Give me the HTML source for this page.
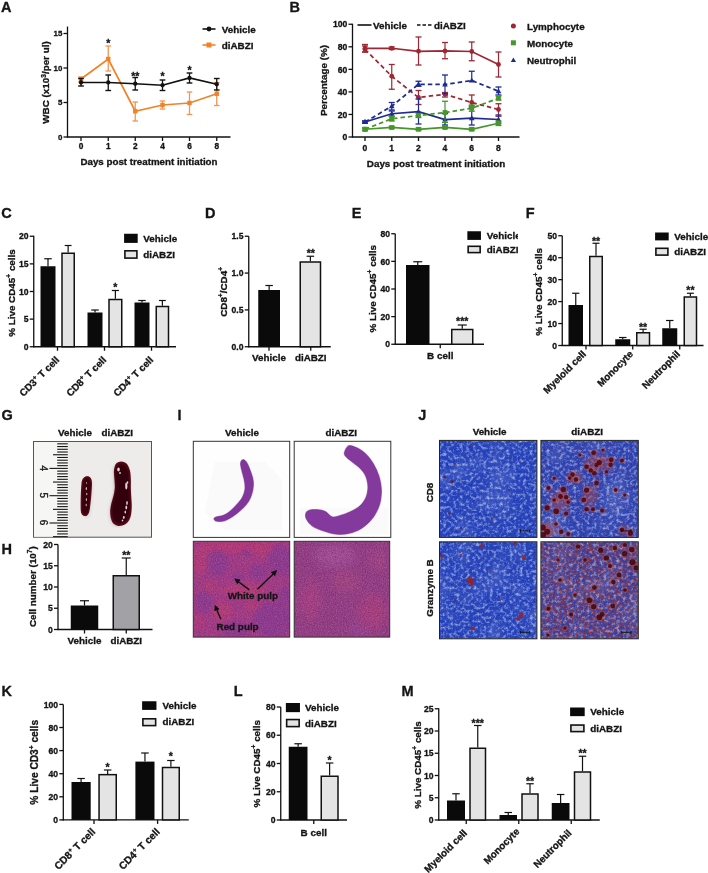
<!DOCTYPE html>
<html><head><meta charset="utf-8"><title>Figure</title>
<style>
html,body{margin:0;padding:0;background:#fff;}
body{width:708px;height:873px;overflow:hidden;}
svg{display:block;font-family:"Liberation Sans", sans-serif;will-change:transform;filter:blur(0.3px);}
text{stroke:#151515;stroke-width:0.32px;}
</style></head><body>
<svg width="708" height="873" viewBox="0 0 708 873">
<rect width="708" height="873" fill="#fff"/>
<defs>
<marker id="arr" viewBox="0 0 10 10" refX="8" refY="5" markerWidth="4.2" markerHeight="4.2" orient="auto-start-reverse" markerUnits="strokeWidth"><path d="M0,0 L10,5 L0,10 z" fill="#111"/></marker>
<clipPath id="clipHE1"><rect x="193.8" y="541.8" width="95.4" height="94.8"/></clipPath>
<clipPath id="clipHE2"><rect x="294.7" y="541.8" width="94.5" height="94.8"/></clipPath>
<filter id="blur05" x="-50%" y="-50%" width="200%" height="200%"><feGaussianBlur stdDeviation="0.5"/></filter>
<filter id="blur1" x="-50%" y="-50%" width="200%" height="200%"><feGaussianBlur stdDeviation="1"/></filter>
<filter id="blur2" x="-50%" y="-50%" width="200%" height="200%"><feGaussianBlur stdDeviation="2.2"/></filter>
<filter id="blur3" x="-50%" y="-50%" width="200%" height="200%"><feGaussianBlur stdDeviation="4"/></filter>
<filter id="speck" x="0" y="0" width="100%" height="100%"><feTurbulence type="fractalNoise" baseFrequency="0.8" numOctaves="2" seed="3" result="n"/><feColorMatrix in="n" type="matrix" values="0 0 0 0 0  0 0 0 0 0  0 0 0 0 0  2.2 0 0 0 -0.95" result="a"/><feFlood flood-color="#dc88bc"/><feComposite in2="a" operator="in"/></filter>
<filter id="speckD" x="0" y="0" width="100%" height="100%"><feTurbulence type="fractalNoise" baseFrequency="0.9" numOctaves="2" seed="17" result="n"/><feColorMatrix in="n" type="matrix" values="0 0 0 0 0  0 0 0 0 0  0 0 0 0 0  -2.2 0 0 0 1.15" result="a"/><feFlood flood-color="#641a5e"/><feComposite in2="a" operator="in"/></filter>
<filter id="speckJ" x="0" y="0" width="100%" height="100%"><feTurbulence type="fractalNoise" baseFrequency="0.3" numOctaves="3" seed="11" result="n"/><feColorMatrix in="n" type="matrix" values="0 0 0 0 0  0 0 0 0 0  0 0 0 0 0  2.4 0 0 0 -1.1" result="a"/><feFlood flood-color="#d4def6"/><feComposite in2="a" operator="in"/><feGaussianBlur stdDeviation="0.35"/></filter>
<filter id="darkJ" x="0" y="0" width="100%" height="100%"><feTurbulence type="fractalNoise" baseFrequency="0.45" numOctaves="2" seed="23" result="n"/><feColorMatrix in="n" type="matrix" values="0 0 0 0 0  0 0 0 0 0  0 0 0 0 0  -3 0 0 0 1.3" result="a"/><feFlood flood-color="#1a2fa0"/><feComposite in2="a" operator="in"/></filter>
<filter id="bandJ" x="0" y="0" width="100%" height="100%"><feTurbulence type="fractalNoise" baseFrequency="0.035" numOctaves="2" seed="4" result="n"/><feColorMatrix in="n" type="matrix" values="0 0 0 0 0  0 0 0 0 0  0 0 0 0 0  2.2 0 0 0 -1.05" result="a"/><feFlood flood-color="#dfe6f8"/><feComposite in2="a" operator="in"/></filter>
<filter id="redJ" x="0" y="0" width="100%" height="100%"><feTurbulence type="fractalNoise" baseFrequency="0.4" numOctaves="2" seed="31" result="n"/><feColorMatrix in="n" type="matrix" values="0 0 0 0 0  0 0 0 0 0  0 0 0 0 0  3 0 0 0 -1.35" result="a"/><feFlood flood-color="#a83a3a"/><feComposite in2="a" operator="in"/></filter>
<filter id="tex" x="-5%" y="-5%" width="110%" height="110%"><feTurbulence type="fractalNoise" baseFrequency="0.7" numOctaves="2" seed="5" result="n"/><feColorMatrix in="n" type="matrix" values="0 0 0 0 0.75  0 0 0 0 0.3  0 0 0 0 0.55  1.6 0 0 0 -0.75" result="a"/><feComposite in="a" in2="SourceGraphic" operator="in" result="b"/><feMerge><feMergeNode in="SourceGraphic"/><feMergeNode in="b"/></feMerge></filter>
<radialGradient id="gHE2" cx="0.45" cy="0.3" r="0.6"><stop offset="0" stop-color="#c083bb"/><stop offset="1" stop-color="#a4519b" stop-opacity="0"/></radialGradient>
</defs>
<text x="1.00" y="11.88" font-size="14.5" text-anchor="start" font-weight="bold" fill="#151515">A</text>
<line x1="67.50" y1="137.60" x2="67.50" y2="26.50" stroke="#111" stroke-width="1.3"/>
<line x1="63.50" y1="137.00" x2="67.50" y2="137.00" stroke="#111" stroke-width="1.3"/>
<text x="62.30" y="139.94" font-size="7.9" text-anchor="end" font-weight="bold" fill="#151515">0</text>
<line x1="63.50" y1="102.50" x2="67.50" y2="102.50" stroke="#111" stroke-width="1.3"/>
<text x="62.30" y="105.44" font-size="7.9" text-anchor="end" font-weight="bold" fill="#151515">5</text>
<line x1="63.50" y1="68.00" x2="67.50" y2="68.00" stroke="#111" stroke-width="1.3"/>
<text x="62.30" y="70.94" font-size="7.9" text-anchor="end" font-weight="bold" fill="#151515">10</text>
<line x1="63.50" y1="33.50" x2="67.50" y2="33.50" stroke="#111" stroke-width="1.3"/>
<text x="62.30" y="36.44" font-size="7.9" text-anchor="end" font-weight="bold" fill="#151515">15</text>
<line x1="66.90" y1="137.00" x2="230.50" y2="137.00" stroke="#111" stroke-width="1.3"/>
<line x1="81.00" y1="137.00" x2="81.00" y2="141.00" stroke="#111" stroke-width="1.3"/>
<text x="81.00" y="149.09" font-size="8.3" text-anchor="middle" font-weight="bold" fill="#151515">0</text>
<line x1="108.25" y1="137.00" x2="108.25" y2="141.00" stroke="#111" stroke-width="1.3"/>
<text x="108.25" y="149.09" font-size="8.3" text-anchor="middle" font-weight="bold" fill="#151515">1</text>
<line x1="135.25" y1="137.00" x2="135.25" y2="141.00" stroke="#111" stroke-width="1.3"/>
<text x="135.25" y="149.09" font-size="8.3" text-anchor="middle" font-weight="bold" fill="#151515">2</text>
<line x1="162.50" y1="137.00" x2="162.50" y2="141.00" stroke="#111" stroke-width="1.3"/>
<text x="162.50" y="149.09" font-size="8.3" text-anchor="middle" font-weight="bold" fill="#151515">4</text>
<line x1="189.50" y1="137.00" x2="189.50" y2="141.00" stroke="#111" stroke-width="1.3"/>
<text x="189.50" y="149.09" font-size="8.3" text-anchor="middle" font-weight="bold" fill="#151515">6</text>
<line x1="216.75" y1="137.00" x2="216.75" y2="141.00" stroke="#111" stroke-width="1.3"/>
<text x="216.75" y="149.09" font-size="8.3" text-anchor="middle" font-weight="bold" fill="#151515">8</text>
<text x="149.00" y="165.21" font-size="9.75" text-anchor="middle" font-weight="bold" fill="#151515">Days post treatment initiation</text>
<text x="46" y="82.5" font-size="9.85" font-weight="bold" fill="#151515" text-anchor="middle" transform="rotate(-90 46 82.5) translate(0 3.4)">WBC (x10<tspan font-size="6.6" dy="-3.8">3</tspan><tspan dy="3.8">/per ul)</tspan></text>
<line x1="81.00" y1="77.00" x2="81.00" y2="82.00" stroke="#f29550" stroke-width="1.3"/>
<line x1="78.20" y1="77.00" x2="83.80" y2="77.00" stroke="#f29550" stroke-width="1.3"/>
<line x1="78.20" y1="82.00" x2="83.80" y2="82.00" stroke="#f29550" stroke-width="1.3"/>
<line x1="108.25" y1="46.00" x2="108.25" y2="71.00" stroke="#f29550" stroke-width="1.3"/>
<line x1="105.45" y1="46.00" x2="111.05" y2="46.00" stroke="#f29550" stroke-width="1.3"/>
<line x1="105.45" y1="71.00" x2="111.05" y2="71.00" stroke="#f29550" stroke-width="1.3"/>
<line x1="135.25" y1="102.00" x2="135.25" y2="121.00" stroke="#f29550" stroke-width="1.3"/>
<line x1="132.45" y1="102.00" x2="138.05" y2="102.00" stroke="#f29550" stroke-width="1.3"/>
<line x1="132.45" y1="121.00" x2="138.05" y2="121.00" stroke="#f29550" stroke-width="1.3"/>
<line x1="162.50" y1="101.00" x2="162.50" y2="109.00" stroke="#f29550" stroke-width="1.3"/>
<line x1="159.70" y1="101.00" x2="165.30" y2="101.00" stroke="#f29550" stroke-width="1.3"/>
<line x1="159.70" y1="109.00" x2="165.30" y2="109.00" stroke="#f29550" stroke-width="1.3"/>
<line x1="189.50" y1="92.00" x2="189.50" y2="114.50" stroke="#f29550" stroke-width="1.3"/>
<line x1="186.70" y1="92.00" x2="192.30" y2="92.00" stroke="#f29550" stroke-width="1.3"/>
<line x1="186.70" y1="114.50" x2="192.30" y2="114.50" stroke="#f29550" stroke-width="1.3"/>
<line x1="216.75" y1="82.50" x2="216.75" y2="105.50" stroke="#f29550" stroke-width="1.3"/>
<line x1="213.95" y1="82.50" x2="219.55" y2="82.50" stroke="#f29550" stroke-width="1.3"/>
<line x1="213.95" y1="105.50" x2="219.55" y2="105.50" stroke="#f29550" stroke-width="1.3"/>
<polyline points="81,79 108.25,59 135.25,111.25 162.5,105 189.5,103 216.75,93.75" fill="none" stroke="#f08228" stroke-width="1.7"/>
<rect x="78.8" y="76.8" width="4.4" height="4.4" fill="#f08228"/>
<rect x="106.05" y="56.8" width="4.4" height="4.4" fill="#f08228"/>
<rect x="133.05" y="109.05" width="4.4" height="4.4" fill="#f08228"/>
<rect x="160.3" y="102.8" width="4.4" height="4.4" fill="#f08228"/>
<rect x="187.3" y="100.8" width="4.4" height="4.4" fill="#f08228"/>
<rect x="214.55" y="91.55" width="4.4" height="4.4" fill="#f08228"/>
<line x1="81.00" y1="78.50" x2="81.00" y2="86.00" stroke="#111" stroke-width="1.3"/>
<line x1="78.15" y1="78.50" x2="83.85" y2="78.50" stroke="#111" stroke-width="1.4"/>
<line x1="78.15" y1="86.00" x2="83.85" y2="86.00" stroke="#111" stroke-width="1.4"/>
<line x1="108.25" y1="75.00" x2="108.25" y2="90.50" stroke="#111" stroke-width="1.3"/>
<line x1="105.40" y1="75.00" x2="111.10" y2="75.00" stroke="#111" stroke-width="1.4"/>
<line x1="105.40" y1="90.50" x2="111.10" y2="90.50" stroke="#111" stroke-width="1.4"/>
<line x1="135.25" y1="77.50" x2="135.25" y2="90.00" stroke="#111" stroke-width="1.3"/>
<line x1="132.40" y1="77.50" x2="138.10" y2="77.50" stroke="#111" stroke-width="1.4"/>
<line x1="132.40" y1="90.00" x2="138.10" y2="90.00" stroke="#111" stroke-width="1.4"/>
<line x1="162.50" y1="80.00" x2="162.50" y2="90.50" stroke="#111" stroke-width="1.3"/>
<line x1="159.65" y1="80.00" x2="165.35" y2="80.00" stroke="#111" stroke-width="1.4"/>
<line x1="159.65" y1="90.50" x2="165.35" y2="90.50" stroke="#111" stroke-width="1.4"/>
<line x1="189.50" y1="73.00" x2="189.50" y2="83.00" stroke="#111" stroke-width="1.3"/>
<line x1="186.65" y1="73.00" x2="192.35" y2="73.00" stroke="#111" stroke-width="1.4"/>
<line x1="186.65" y1="83.00" x2="192.35" y2="83.00" stroke="#111" stroke-width="1.4"/>
<line x1="216.75" y1="78.50" x2="216.75" y2="90.00" stroke="#111" stroke-width="1.3"/>
<line x1="213.90" y1="78.50" x2="219.60" y2="78.50" stroke="#111" stroke-width="1.4"/>
<line x1="213.90" y1="90.00" x2="219.60" y2="90.00" stroke="#111" stroke-width="1.4"/>
<polyline points="81,82.5 108.25,82.5 135.25,83.75 162.5,85.25 189.5,78 216.75,84.25" fill="none" stroke="#111" stroke-width="1.7"/>
<circle cx="81" cy="82.5" r="2.15" fill="#111"/>
<circle cx="108.25" cy="82.5" r="2.15" fill="#111"/>
<circle cx="135.25" cy="83.75" r="2.15" fill="#111"/>
<circle cx="162.5" cy="85.25" r="2.15" fill="#111"/>
<circle cx="189.5" cy="78" r="2.15" fill="#111"/>
<circle cx="216.75" cy="84.25" r="2.15" fill="#111"/>
<text x="108.25" y="46.77" font-size="10.5" text-anchor="middle" font-weight="bold" fill="#151515">*</text>
<text x="135.25" y="79.78" font-size="10.5" text-anchor="middle" font-weight="bold" fill="#151515">**</text>
<text x="162.50" y="80.28" font-size="10.5" text-anchor="middle" font-weight="bold" fill="#151515">*</text>
<text x="189.50" y="73.78" font-size="10.5" text-anchor="middle" font-weight="bold" fill="#151515">*</text>
<line x1="202.50" y1="29.00" x2="215.50" y2="29.00" stroke="#111" stroke-width="1.6"/>
<circle cx="209" cy="29" r="2.4" fill="#111"/>
<line x1="202.50" y1="45.00" x2="215.50" y2="45.00" stroke="#f08228" stroke-width="1.6"/>
<rect x="206.5" y="42.5" width="5" height="5" fill="#f08228"/>
<text x="221.75" y="32.65" font-size="9.85" text-anchor="start" font-weight="bold" fill="#151515">Vehicle</text>
<text x="221.75" y="48.65" font-size="9.85" text-anchor="start" font-weight="bold" fill="#151515">diABZI</text>
<text x="289.40" y="11.88" font-size="14.5" text-anchor="start" font-weight="bold" fill="#151515">B</text>
<line x1="352.50" y1="137.60" x2="352.50" y2="23.75" stroke="#111" stroke-width="1.3"/>
<line x1="348.50" y1="137.00" x2="352.50" y2="137.00" stroke="#111" stroke-width="1.3"/>
<text x="347.30" y="140.20" font-size="8.6" text-anchor="end" font-weight="bold" fill="#151515">0</text>
<line x1="348.50" y1="114.45" x2="352.50" y2="114.45" stroke="#111" stroke-width="1.3"/>
<text x="347.30" y="117.65" font-size="8.6" text-anchor="end" font-weight="bold" fill="#151515">20</text>
<line x1="348.50" y1="91.90" x2="352.50" y2="91.90" stroke="#111" stroke-width="1.3"/>
<text x="347.30" y="95.10" font-size="8.6" text-anchor="end" font-weight="bold" fill="#151515">40</text>
<line x1="348.50" y1="69.35" x2="352.50" y2="69.35" stroke="#111" stroke-width="1.3"/>
<text x="347.30" y="72.55" font-size="8.6" text-anchor="end" font-weight="bold" fill="#151515">60</text>
<line x1="348.50" y1="46.80" x2="352.50" y2="46.80" stroke="#111" stroke-width="1.3"/>
<text x="347.30" y="50.00" font-size="8.6" text-anchor="end" font-weight="bold" fill="#151515">80</text>
<line x1="348.50" y1="24.25" x2="352.50" y2="24.25" stroke="#111" stroke-width="1.3"/>
<text x="347.30" y="27.45" font-size="8.6" text-anchor="end" font-weight="bold" fill="#151515">100</text>
<line x1="351.90" y1="137.00" x2="519.50" y2="137.00" stroke="#111" stroke-width="1.3"/>
<line x1="365.00" y1="137.00" x2="365.00" y2="141.00" stroke="#111" stroke-width="1.3"/>
<text x="365.00" y="150.70" font-size="8.6" text-anchor="middle" font-weight="bold" fill="#151515">0</text>
<line x1="391.75" y1="137.00" x2="391.75" y2="141.00" stroke="#111" stroke-width="1.3"/>
<text x="391.75" y="150.70" font-size="8.6" text-anchor="middle" font-weight="bold" fill="#151515">1</text>
<line x1="418.50" y1="137.00" x2="418.50" y2="141.00" stroke="#111" stroke-width="1.3"/>
<text x="418.50" y="150.70" font-size="8.6" text-anchor="middle" font-weight="bold" fill="#151515">2</text>
<line x1="445.00" y1="137.00" x2="445.00" y2="141.00" stroke="#111" stroke-width="1.3"/>
<text x="445.00" y="150.70" font-size="8.6" text-anchor="middle" font-weight="bold" fill="#151515">4</text>
<line x1="471.75" y1="137.00" x2="471.75" y2="141.00" stroke="#111" stroke-width="1.3"/>
<text x="471.75" y="150.70" font-size="8.6" text-anchor="middle" font-weight="bold" fill="#151515">6</text>
<line x1="498.50" y1="137.00" x2="498.50" y2="141.00" stroke="#111" stroke-width="1.3"/>
<text x="498.50" y="150.70" font-size="8.6" text-anchor="middle" font-weight="bold" fill="#151515">8</text>
<text x="436.00" y="166.65" font-size="9.85" text-anchor="middle" font-weight="bold" fill="#151515">Days post treatment initiation</text>
<text x="323.25" y="80.5" font-size="9.85" font-weight="bold" fill="#151515" text-anchor="middle" transform="rotate(-90 323.25 80.5) translate(0 3.4)">Percentage (%)</text>
<line x1="365.00" y1="44.50" x2="365.00" y2="52.00" stroke="#9e2733" stroke-width="1.2"/>
<line x1="362.00" y1="44.50" x2="368.00" y2="44.50" stroke="#9e2733" stroke-width="1.3"/>
<line x1="362.00" y1="52.00" x2="368.00" y2="52.00" stroke="#9e2733" stroke-width="1.3"/>
<line x1="391.75" y1="47.00" x2="391.75" y2="49.50" stroke="#9e2733" stroke-width="1.2"/>
<line x1="388.75" y1="47.00" x2="394.75" y2="47.00" stroke="#9e2733" stroke-width="1.3"/>
<line x1="388.75" y1="49.50" x2="394.75" y2="49.50" stroke="#9e2733" stroke-width="1.3"/>
<line x1="418.50" y1="37.00" x2="418.50" y2="65.00" stroke="#9e2733" stroke-width="1.2"/>
<line x1="415.50" y1="37.00" x2="421.50" y2="37.00" stroke="#9e2733" stroke-width="1.3"/>
<line x1="415.50" y1="65.00" x2="421.50" y2="65.00" stroke="#9e2733" stroke-width="1.3"/>
<line x1="445.00" y1="42.50" x2="445.00" y2="58.75" stroke="#9e2733" stroke-width="1.2"/>
<line x1="442.00" y1="42.50" x2="448.00" y2="42.50" stroke="#9e2733" stroke-width="1.3"/>
<line x1="442.00" y1="58.75" x2="448.00" y2="58.75" stroke="#9e2733" stroke-width="1.3"/>
<line x1="471.75" y1="42.00" x2="471.75" y2="60.75" stroke="#9e2733" stroke-width="1.2"/>
<line x1="468.75" y1="42.00" x2="474.75" y2="42.00" stroke="#9e2733" stroke-width="1.3"/>
<line x1="468.75" y1="60.75" x2="474.75" y2="60.75" stroke="#9e2733" stroke-width="1.3"/>
<line x1="498.50" y1="52.00" x2="498.50" y2="77.00" stroke="#9e2733" stroke-width="1.2"/>
<line x1="495.50" y1="52.00" x2="501.50" y2="52.00" stroke="#9e2733" stroke-width="1.3"/>
<line x1="495.50" y1="77.00" x2="501.50" y2="77.00" stroke="#9e2733" stroke-width="1.3"/>
<polyline points="365,48.25 391.75,48.25 418.5,51.25 445,51 471.75,51.5 498.5,64.5" fill="none" stroke="#9e2733" stroke-width="1.75"/>
<circle cx="365" cy="48.25" r="2.4" fill="#9e2733"/>
<circle cx="391.75" cy="48.25" r="2.4" fill="#9e2733"/>
<circle cx="418.5" cy="51.25" r="2.4" fill="#9e2733"/>
<circle cx="445" cy="51" r="2.4" fill="#9e2733"/>
<circle cx="471.75" cy="51.5" r="2.4" fill="#9e2733"/>
<circle cx="498.5" cy="64.5" r="2.4" fill="#9e2733"/>
<line x1="365.00" y1="46.00" x2="365.00" y2="52.00" stroke="#9e2733" stroke-width="1.2"/>
<line x1="362.00" y1="46.00" x2="368.00" y2="46.00" stroke="#9e2733" stroke-width="1.3"/>
<line x1="362.00" y1="52.00" x2="368.00" y2="52.00" stroke="#9e2733" stroke-width="1.3"/>
<line x1="391.75" y1="64.50" x2="391.75" y2="89.25" stroke="#9e2733" stroke-width="1.2"/>
<line x1="388.75" y1="64.50" x2="394.75" y2="64.50" stroke="#9e2733" stroke-width="1.3"/>
<line x1="388.75" y1="89.25" x2="394.75" y2="89.25" stroke="#9e2733" stroke-width="1.3"/>
<line x1="418.50" y1="90.50" x2="418.50" y2="104.50" stroke="#9e2733" stroke-width="1.2"/>
<line x1="415.50" y1="90.50" x2="421.50" y2="90.50" stroke="#9e2733" stroke-width="1.3"/>
<line x1="415.50" y1="104.50" x2="421.50" y2="104.50" stroke="#9e2733" stroke-width="1.3"/>
<line x1="445.00" y1="92.50" x2="445.00" y2="97.00" stroke="#9e2733" stroke-width="1.2"/>
<line x1="442.00" y1="92.50" x2="448.00" y2="92.50" stroke="#9e2733" stroke-width="1.3"/>
<line x1="442.00" y1="97.00" x2="448.00" y2="97.00" stroke="#9e2733" stroke-width="1.3"/>
<line x1="471.75" y1="95.00" x2="471.75" y2="107.50" stroke="#9e2733" stroke-width="1.2"/>
<line x1="468.75" y1="95.00" x2="474.75" y2="95.00" stroke="#9e2733" stroke-width="1.3"/>
<line x1="468.75" y1="107.50" x2="474.75" y2="107.50" stroke="#9e2733" stroke-width="1.3"/>
<line x1="498.50" y1="103.75" x2="498.50" y2="116.25" stroke="#9e2733" stroke-width="1.2"/>
<line x1="495.50" y1="103.75" x2="501.50" y2="103.75" stroke="#9e2733" stroke-width="1.3"/>
<line x1="495.50" y1="116.25" x2="501.50" y2="116.25" stroke="#9e2733" stroke-width="1.3"/>
<polyline points="365,49.25 391.75,76.25 418.5,97.5 445,94.25 471.75,102.5 498.5,109.5" fill="none" stroke="#9e2733" stroke-width="1.75" stroke-dasharray="4.5 3"/>
<circle cx="365" cy="49.25" r="2.4" fill="#9e2733"/>
<circle cx="391.75" cy="76.25" r="2.4" fill="#9e2733"/>
<circle cx="418.5" cy="97.5" r="2.4" fill="#9e2733"/>
<circle cx="445" cy="94.25" r="2.4" fill="#9e2733"/>
<circle cx="471.75" cy="102.5" r="2.4" fill="#9e2733"/>
<circle cx="498.5" cy="109.5" r="2.4" fill="#9e2733"/>
<line x1="365.00" y1="121.00" x2="365.00" y2="123.00" stroke="#1d2b92" stroke-width="1.2"/>
<line x1="362.00" y1="121.00" x2="368.00" y2="121.00" stroke="#1d2b92" stroke-width="1.3"/>
<line x1="362.00" y1="123.00" x2="368.00" y2="123.00" stroke="#1d2b92" stroke-width="1.3"/>
<line x1="391.75" y1="111.00" x2="391.75" y2="116.50" stroke="#1d2b92" stroke-width="1.2"/>
<line x1="388.75" y1="111.00" x2="394.75" y2="111.00" stroke="#1d2b92" stroke-width="1.3"/>
<line x1="388.75" y1="116.50" x2="394.75" y2="116.50" stroke="#1d2b92" stroke-width="1.3"/>
<line x1="418.50" y1="99.00" x2="418.50" y2="124.00" stroke="#1d2b92" stroke-width="1.2"/>
<line x1="415.50" y1="99.00" x2="421.50" y2="99.00" stroke="#1d2b92" stroke-width="1.3"/>
<line x1="415.50" y1="124.00" x2="421.50" y2="124.00" stroke="#1d2b92" stroke-width="1.3"/>
<line x1="445.00" y1="113.40" x2="445.00" y2="125.00" stroke="#1d2b92" stroke-width="1.2"/>
<line x1="442.00" y1="113.40" x2="448.00" y2="113.40" stroke="#1d2b92" stroke-width="1.3"/>
<line x1="442.00" y1="125.00" x2="448.00" y2="125.00" stroke="#1d2b92" stroke-width="1.3"/>
<line x1="471.75" y1="106.00" x2="471.75" y2="125.00" stroke="#1d2b92" stroke-width="1.2"/>
<line x1="468.75" y1="106.00" x2="474.75" y2="106.00" stroke="#1d2b92" stroke-width="1.3"/>
<line x1="468.75" y1="125.00" x2="474.75" y2="125.00" stroke="#1d2b92" stroke-width="1.3"/>
<line x1="498.50" y1="115.00" x2="498.50" y2="123.00" stroke="#1d2b92" stroke-width="1.2"/>
<line x1="495.50" y1="115.00" x2="501.50" y2="115.00" stroke="#1d2b92" stroke-width="1.3"/>
<line x1="495.50" y1="123.00" x2="501.50" y2="123.00" stroke="#1d2b92" stroke-width="1.3"/>
<polyline points="365,122 391.75,113.75 418.5,111.75 445,119.5 471.75,118.25 498.5,119.5" fill="none" stroke="#1d2b92" stroke-width="1.75"/>
<polygon points="365,119 367.8,124 362.2,124" fill="#1d2b92"/>
<polygon points="391.75,110.75 394.55,115.75 388.95,115.75" fill="#1d2b92"/>
<polygon points="418.5,108.75 421.3,113.75 415.7,113.75" fill="#1d2b92"/>
<polygon points="445,116.5 447.8,121.5 442.2,121.5" fill="#1d2b92"/>
<polygon points="471.75,115.25 474.55,120.25 468.95,120.25" fill="#1d2b92"/>
<polygon points="498.5,116.5 501.3,121.5 495.7,121.5" fill="#1d2b92"/>
<line x1="365.00" y1="121.00" x2="365.00" y2="123.00" stroke="#1d2b92" stroke-width="1.2"/>
<line x1="362.00" y1="121.00" x2="368.00" y2="121.00" stroke="#1d2b92" stroke-width="1.3"/>
<line x1="362.00" y1="123.00" x2="368.00" y2="123.00" stroke="#1d2b92" stroke-width="1.3"/>
<line x1="391.75" y1="102.50" x2="391.75" y2="110.00" stroke="#1d2b92" stroke-width="1.2"/>
<line x1="388.75" y1="102.50" x2="394.75" y2="102.50" stroke="#1d2b92" stroke-width="1.3"/>
<line x1="388.75" y1="110.00" x2="394.75" y2="110.00" stroke="#1d2b92" stroke-width="1.3"/>
<line x1="418.50" y1="81.25" x2="418.50" y2="86.25" stroke="#1d2b92" stroke-width="1.2"/>
<line x1="415.50" y1="81.25" x2="421.50" y2="81.25" stroke="#1d2b92" stroke-width="1.3"/>
<line x1="415.50" y1="86.25" x2="421.50" y2="86.25" stroke="#1d2b92" stroke-width="1.3"/>
<line x1="445.00" y1="75.00" x2="445.00" y2="93.75" stroke="#1d2b92" stroke-width="1.2"/>
<line x1="442.00" y1="75.00" x2="448.00" y2="75.00" stroke="#1d2b92" stroke-width="1.3"/>
<line x1="442.00" y1="93.75" x2="448.00" y2="93.75" stroke="#1d2b92" stroke-width="1.3"/>
<line x1="471.75" y1="71.25" x2="471.75" y2="81.25" stroke="#1d2b92" stroke-width="1.2"/>
<line x1="468.75" y1="71.25" x2="474.75" y2="71.25" stroke="#1d2b92" stroke-width="1.3"/>
<line x1="468.75" y1="81.25" x2="474.75" y2="81.25" stroke="#1d2b92" stroke-width="1.3"/>
<line x1="498.50" y1="87.00" x2="498.50" y2="95.00" stroke="#1d2b92" stroke-width="1.2"/>
<line x1="495.50" y1="87.00" x2="501.50" y2="87.00" stroke="#1d2b92" stroke-width="1.3"/>
<line x1="495.50" y1="95.00" x2="501.50" y2="95.00" stroke="#1d2b92" stroke-width="1.3"/>
<polyline points="365,122 391.75,106.25 418.5,84.25 445,84.5 471.75,80.5 498.5,91.25" fill="none" stroke="#1d2b92" stroke-width="1.75" stroke-dasharray="4.5 3"/>
<polygon points="365,119 367.8,124 362.2,124" fill="#1d2b92"/>
<polygon points="391.75,103.25 394.55,108.25 388.95,108.25" fill="#1d2b92"/>
<polygon points="418.5,81.25 421.3,86.25 415.7,86.25" fill="#1d2b92"/>
<polygon points="445,81.5 447.8,86.5 442.2,86.5" fill="#1d2b92"/>
<polygon points="471.75,77.5 474.55,82.5 468.95,82.5" fill="#1d2b92"/>
<polygon points="498.5,88.25 501.3,93.25 495.7,93.25" fill="#1d2b92"/>
<line x1="365.00" y1="128.00" x2="365.00" y2="130.50" stroke="#46962a" stroke-width="1.2"/>
<line x1="362.00" y1="128.00" x2="368.00" y2="128.00" stroke="#46962a" stroke-width="1.3"/>
<line x1="362.00" y1="130.50" x2="368.00" y2="130.50" stroke="#46962a" stroke-width="1.3"/>
<line x1="391.75" y1="126.50" x2="391.75" y2="128.50" stroke="#46962a" stroke-width="1.2"/>
<line x1="388.75" y1="126.50" x2="394.75" y2="126.50" stroke="#46962a" stroke-width="1.3"/>
<line x1="388.75" y1="128.50" x2="394.75" y2="128.50" stroke="#46962a" stroke-width="1.3"/>
<line x1="418.50" y1="128.00" x2="418.50" y2="130.50" stroke="#46962a" stroke-width="1.2"/>
<line x1="415.50" y1="128.00" x2="421.50" y2="128.00" stroke="#46962a" stroke-width="1.3"/>
<line x1="415.50" y1="130.50" x2="421.50" y2="130.50" stroke="#46962a" stroke-width="1.3"/>
<line x1="445.00" y1="126.50" x2="445.00" y2="128.50" stroke="#46962a" stroke-width="1.2"/>
<line x1="442.00" y1="126.50" x2="448.00" y2="126.50" stroke="#46962a" stroke-width="1.3"/>
<line x1="442.00" y1="128.50" x2="448.00" y2="128.50" stroke="#46962a" stroke-width="1.3"/>
<line x1="471.75" y1="128.00" x2="471.75" y2="130.50" stroke="#46962a" stroke-width="1.2"/>
<line x1="468.75" y1="128.00" x2="474.75" y2="128.00" stroke="#46962a" stroke-width="1.3"/>
<line x1="468.75" y1="130.50" x2="474.75" y2="130.50" stroke="#46962a" stroke-width="1.3"/>
<line x1="498.50" y1="121.00" x2="498.50" y2="125.50" stroke="#46962a" stroke-width="1.2"/>
<line x1="495.50" y1="121.00" x2="501.50" y2="121.00" stroke="#46962a" stroke-width="1.3"/>
<line x1="495.50" y1="125.50" x2="501.50" y2="125.50" stroke="#46962a" stroke-width="1.3"/>
<polyline points="365,129.25 391.75,127.5 418.5,129.25 445,127.5 471.75,129.25 498.5,123.25" fill="none" stroke="#46962a" stroke-width="1.75"/>
<rect x="362.6" y="126.85" width="4.8" height="4.8" fill="#46962a"/>
<rect x="389.35" y="125.1" width="4.8" height="4.8" fill="#46962a"/>
<rect x="416.1" y="126.85" width="4.8" height="4.8" fill="#46962a"/>
<rect x="442.6" y="125.1" width="4.8" height="4.8" fill="#46962a"/>
<rect x="469.35" y="126.85" width="4.8" height="4.8" fill="#46962a"/>
<rect x="496.1" y="120.85" width="4.8" height="4.8" fill="#46962a"/>
<line x1="365.00" y1="128.00" x2="365.00" y2="130.50" stroke="#46962a" stroke-width="1.2"/>
<line x1="362.00" y1="128.00" x2="368.00" y2="128.00" stroke="#46962a" stroke-width="1.3"/>
<line x1="362.00" y1="130.50" x2="368.00" y2="130.50" stroke="#46962a" stroke-width="1.3"/>
<line x1="391.75" y1="116.50" x2="391.75" y2="121.00" stroke="#46962a" stroke-width="1.2"/>
<line x1="388.75" y1="116.50" x2="394.75" y2="116.50" stroke="#46962a" stroke-width="1.3"/>
<line x1="388.75" y1="121.00" x2="394.75" y2="121.00" stroke="#46962a" stroke-width="1.3"/>
<line x1="418.50" y1="113.50" x2="418.50" y2="117.50" stroke="#46962a" stroke-width="1.2"/>
<line x1="415.50" y1="113.50" x2="421.50" y2="113.50" stroke="#46962a" stroke-width="1.3"/>
<line x1="415.50" y1="117.50" x2="421.50" y2="117.50" stroke="#46962a" stroke-width="1.3"/>
<line x1="445.00" y1="101.25" x2="445.00" y2="122.50" stroke="#46962a" stroke-width="1.2"/>
<line x1="442.00" y1="101.25" x2="448.00" y2="101.25" stroke="#46962a" stroke-width="1.3"/>
<line x1="442.00" y1="122.50" x2="448.00" y2="122.50" stroke="#46962a" stroke-width="1.3"/>
<line x1="471.75" y1="105.00" x2="471.75" y2="111.25" stroke="#46962a" stroke-width="1.2"/>
<line x1="468.75" y1="105.00" x2="474.75" y2="105.00" stroke="#46962a" stroke-width="1.3"/>
<line x1="468.75" y1="111.25" x2="474.75" y2="111.25" stroke="#46962a" stroke-width="1.3"/>
<line x1="498.50" y1="96.00" x2="498.50" y2="100.00" stroke="#46962a" stroke-width="1.2"/>
<line x1="495.50" y1="96.00" x2="501.50" y2="96.00" stroke="#46962a" stroke-width="1.3"/>
<line x1="495.50" y1="100.00" x2="501.50" y2="100.00" stroke="#46962a" stroke-width="1.3"/>
<polyline points="365,129.25 391.75,118.75 418.5,115.5 445,112.5 471.75,108.25 498.5,98.25" fill="none" stroke="#46962a" stroke-width="1.75" stroke-dasharray="4.5 3"/>
<rect x="362.6" y="126.85" width="4.8" height="4.8" fill="#46962a"/>
<rect x="389.35" y="116.35" width="4.8" height="4.8" fill="#46962a"/>
<rect x="416.1" y="113.1" width="4.8" height="4.8" fill="#46962a"/>
<rect x="442.6" y="110.1" width="4.8" height="4.8" fill="#46962a"/>
<rect x="469.35" y="105.85" width="4.8" height="4.8" fill="#46962a"/>
<rect x="496.1" y="95.85" width="4.8" height="4.8" fill="#46962a"/>
<line x1="357.50" y1="25.00" x2="371.50" y2="25.00" stroke="#111" stroke-width="1.6"/>
<text x="373.00" y="28.65" font-size="9.85" text-anchor="start" font-weight="bold" fill="#151515">Vehicle</text>
<line x1="417.00" y1="25.00" x2="432.00" y2="25.00" stroke="#111" stroke-width="1.6" stroke-dasharray="3.5 2"/>
<text x="434.00" y="28.65" font-size="9.85" text-anchor="start" font-weight="bold" fill="#151515">diABZI</text>
<circle cx="513.4" cy="26" r="2.5" fill="#9e2733"/>
<rect x="510.9" y="40.3" width="5" height="5" fill="#46962a"/>
<polygon points="513.4,57.5 516,62 510.8,62" fill="#1d2b92"/>
<text x="527.00" y="29.65" font-size="9.85" text-anchor="start" font-weight="bold" fill="#151515">Lymphocyte</text>
<text x="527.00" y="46.65" font-size="9.85" text-anchor="start" font-weight="bold" fill="#151515">Monocyte</text>
<text x="527.00" y="63.65" font-size="9.85" text-anchor="start" font-weight="bold" fill="#151515">Neutrophil</text>
<text x="1.20" y="218.18" font-size="14.5" text-anchor="start" font-weight="bold" fill="#151515">C</text>
<line x1="33.75" y1="347.35" x2="33.75" y2="235.75" stroke="#111" stroke-width="1.3"/>
<line x1="29.75" y1="346.75" x2="33.75" y2="346.75" stroke="#111" stroke-width="1.3"/>
<text x="28.55" y="349.95" font-size="8.6" text-anchor="end" font-weight="bold" fill="#151515">0</text>
<line x1="29.75" y1="319.12" x2="33.75" y2="319.12" stroke="#111" stroke-width="1.3"/>
<text x="28.55" y="322.32" font-size="8.6" text-anchor="end" font-weight="bold" fill="#151515">5</text>
<line x1="29.75" y1="291.50" x2="33.75" y2="291.50" stroke="#111" stroke-width="1.3"/>
<text x="28.55" y="294.70" font-size="8.6" text-anchor="end" font-weight="bold" fill="#151515">10</text>
<line x1="29.75" y1="263.88" x2="33.75" y2="263.88" stroke="#111" stroke-width="1.3"/>
<text x="28.55" y="267.07" font-size="8.6" text-anchor="end" font-weight="bold" fill="#151515">15</text>
<line x1="29.75" y1="236.25" x2="33.75" y2="236.25" stroke="#111" stroke-width="1.3"/>
<text x="28.55" y="239.45" font-size="8.6" text-anchor="end" font-weight="bold" fill="#151515">20</text>
<line x1="33.15" y1="346.75" x2="176.00" y2="346.75" stroke="#111" stroke-width="1.3"/>
<line x1="57.50" y1="346.75" x2="57.50" y2="350.75" stroke="#111" stroke-width="1.3"/>
<line x1="104.50" y1="346.75" x2="104.50" y2="350.75" stroke="#111" stroke-width="1.3"/>
<line x1="151.50" y1="346.75" x2="151.50" y2="350.75" stroke="#111" stroke-width="1.3"/>
<line x1="48.00" y1="266.25" x2="48.00" y2="258.75" stroke="#111" stroke-width="1.2"/>
<line x1="44.25" y1="258.75" x2="51.75" y2="258.75" stroke="#111" stroke-width="1.2"/>
<rect x="40.50" y="266.25" width="15.00" height="80.50" fill="#0a0a0a"/>
<line x1="68.12" y1="252.50" x2="68.12" y2="245.50" stroke="#111" stroke-width="1.2"/>
<line x1="64.69" y1="245.50" x2="71.56" y2="245.50" stroke="#111" stroke-width="1.2"/>
<rect x="62.00" y="253.25" width="12.25" height="93.50" fill="#e4e4e4" stroke="#111" stroke-width="1.5"/>
<line x1="95.00" y1="312.50" x2="95.00" y2="310.00" stroke="#111" stroke-width="1.2"/>
<line x1="91.25" y1="310.00" x2="98.75" y2="310.00" stroke="#111" stroke-width="1.2"/>
<rect x="87.50" y="312.50" width="15.00" height="34.25" fill="#0a0a0a"/>
<line x1="115.38" y1="298.75" x2="115.38" y2="290.50" stroke="#111" stroke-width="1.2"/>
<line x1="111.81" y1="290.50" x2="118.94" y2="290.50" stroke="#111" stroke-width="1.2"/>
<rect x="109.00" y="299.50" width="12.75" height="47.25" fill="#e4e4e4" stroke="#111" stroke-width="1.5"/>
<line x1="142.00" y1="302.50" x2="142.00" y2="300.50" stroke="#111" stroke-width="1.2"/>
<line x1="138.25" y1="300.50" x2="145.75" y2="300.50" stroke="#111" stroke-width="1.2"/>
<rect x="134.50" y="302.50" width="15.00" height="44.25" fill="#0a0a0a"/>
<line x1="162.38" y1="305.75" x2="162.38" y2="300.50" stroke="#111" stroke-width="1.2"/>
<line x1="158.94" y1="300.50" x2="165.81" y2="300.50" stroke="#111" stroke-width="1.2"/>
<rect x="156.25" y="306.50" width="12.25" height="40.25" fill="#e4e4e4" stroke="#111" stroke-width="1.5"/>
<text x="115.40" y="290.77" font-size="10.5" text-anchor="middle" font-weight="bold" fill="#151515">*</text>
<rect x="124.10" y="233.75" width="13.60" height="9.15" fill="#0a0a0a"/>
<rect x="124.90" y="250.80" width="12.00" height="7.30" fill="#e4e4e4" stroke="#111" stroke-width="1.6"/>
<text x="143.25" y="241.90" font-size="9.85" text-anchor="start" font-weight="bold" fill="#151515">Vehicle</text>
<text x="143.25" y="258.15" font-size="9.85" text-anchor="start" font-weight="bold" fill="#151515">diABZI</text>
<text x="11.25" y="293" font-size="9.85" font-weight="bold" fill="#151515" text-anchor="middle" transform="rotate(-90 11.25 293) translate(0 3.4)">% Live CD45<tspan font-size="6.6" dy="-3.8">+</tspan><tspan dy="3.8"> cells</tspan></text>
<text x="59.9" y="360.6" font-size="9.85" font-weight="bold" fill="#151515" text-anchor="end" transform="rotate(-45 59.9 360.6)">CD3<tspan font-size="6.6" dy="-3.8">+</tspan><tspan dy="3.8"> T cell</tspan></text>
<text x="106.9" y="360.6" font-size="9.85" font-weight="bold" fill="#151515" text-anchor="end" transform="rotate(-45 106.9 360.6)">CD8<tspan font-size="6.6" dy="-3.8">+</tspan><tspan dy="3.8"> T cell</tspan></text>
<text x="153.9" y="360.6" font-size="9.85" font-weight="bold" fill="#151515" text-anchor="end" transform="rotate(-45 153.9 360.6)">CD4<tspan font-size="6.6" dy="-3.8">+</tspan><tspan dy="3.8"> T cell</tspan></text>
<text x="205.00" y="218.38" font-size="14.5" text-anchor="start" font-weight="bold" fill="#151515">D</text>
<line x1="248.75" y1="347.35" x2="248.75" y2="236.25" stroke="#111" stroke-width="1.3"/>
<line x1="244.75" y1="346.75" x2="248.75" y2="346.75" stroke="#111" stroke-width="1.3"/>
<text x="243.55" y="349.95" font-size="8.6" text-anchor="end" font-weight="bold" fill="#151515">0.0</text>
<line x1="244.75" y1="309.92" x2="248.75" y2="309.92" stroke="#111" stroke-width="1.3"/>
<text x="243.55" y="313.11" font-size="8.6" text-anchor="end" font-weight="bold" fill="#151515">0.5</text>
<line x1="244.75" y1="273.08" x2="248.75" y2="273.08" stroke="#111" stroke-width="1.3"/>
<text x="243.55" y="276.28" font-size="8.6" text-anchor="end" font-weight="bold" fill="#151515">1.0</text>
<line x1="244.75" y1="236.25" x2="248.75" y2="236.25" stroke="#111" stroke-width="1.3"/>
<text x="243.55" y="239.44" font-size="8.6" text-anchor="end" font-weight="bold" fill="#151515">1.5</text>
<line x1="248.15" y1="346.75" x2="330.75" y2="346.75" stroke="#111" stroke-width="1.3"/>
<line x1="269.00" y1="346.75" x2="269.00" y2="350.75" stroke="#111" stroke-width="1.3"/>
<text x="269.00" y="361.15" font-size="9.85" text-anchor="middle" font-weight="bold" fill="#151515">Vehicle</text>
<line x1="310.75" y1="346.75" x2="310.75" y2="350.75" stroke="#111" stroke-width="1.3"/>
<text x="310.75" y="361.15" font-size="9.85" text-anchor="middle" font-weight="bold" fill="#151515">diABZI</text>
<line x1="269.12" y1="290.00" x2="269.12" y2="285.50" stroke="#111" stroke-width="1.2"/>
<line x1="265.38" y1="285.50" x2="272.88" y2="285.50" stroke="#111" stroke-width="1.2"/>
<rect x="258.25" y="290.00" width="21.75" height="56.75" fill="#0a0a0a"/>
<line x1="310.38" y1="261.25" x2="310.38" y2="256.25" stroke="#111" stroke-width="1.2"/>
<line x1="306.62" y1="256.25" x2="314.12" y2="256.25" stroke="#111" stroke-width="1.2"/>
<rect x="300.25" y="262.00" width="20.25" height="84.75" fill="#e4e4e4" stroke="#111" stroke-width="1.5"/>
<text x="310.75" y="257.02" font-size="10.5" text-anchor="middle" font-weight="bold" fill="#151515">**</text>
<text x="223.25" y="291.9" font-size="9.85" font-weight="bold" fill="#151515" text-anchor="middle" transform="rotate(-90 223.25 291.9) translate(0 3.4)">CD8<tspan font-size="6.6" dy="-3.8">+</tspan><tspan dy="3.8">/CD4</tspan><tspan font-size="6.6" dy="-3.8">+</tspan></text>
<text x="351.80" y="218.38" font-size="14.5" text-anchor="start" font-weight="bold" fill="#151515">E</text>
<line x1="395.25" y1="344.85" x2="395.25" y2="233.75" stroke="#111" stroke-width="1.3"/>
<line x1="391.25" y1="344.25" x2="395.25" y2="344.25" stroke="#111" stroke-width="1.3"/>
<text x="390.05" y="347.45" font-size="8.6" text-anchor="end" font-weight="bold" fill="#151515">0</text>
<line x1="391.25" y1="316.62" x2="395.25" y2="316.62" stroke="#111" stroke-width="1.3"/>
<text x="390.05" y="319.82" font-size="8.6" text-anchor="end" font-weight="bold" fill="#151515">20</text>
<line x1="391.25" y1="289.00" x2="395.25" y2="289.00" stroke="#111" stroke-width="1.3"/>
<text x="390.05" y="292.20" font-size="8.6" text-anchor="end" font-weight="bold" fill="#151515">40</text>
<line x1="391.25" y1="261.38" x2="395.25" y2="261.38" stroke="#111" stroke-width="1.3"/>
<text x="390.05" y="264.57" font-size="8.6" text-anchor="end" font-weight="bold" fill="#151515">60</text>
<line x1="391.25" y1="233.75" x2="395.25" y2="233.75" stroke="#111" stroke-width="1.3"/>
<text x="390.05" y="236.95" font-size="8.6" text-anchor="end" font-weight="bold" fill="#151515">80</text>
<line x1="394.65" y1="344.25" x2="484.00" y2="344.25" stroke="#111" stroke-width="1.3"/>
<line x1="440.25" y1="344.25" x2="440.25" y2="348.25" stroke="#111" stroke-width="1.3"/>
<text x="440.25" y="359.15" font-size="9.85" text-anchor="middle" font-weight="bold" fill="#151515">B cell</text>
<line x1="417.75" y1="265.00" x2="417.75" y2="261.75" stroke="#111" stroke-width="1.2"/>
<line x1="413.25" y1="261.75" x2="422.25" y2="261.75" stroke="#111" stroke-width="1.2"/>
<rect x="406.00" y="265.00" width="23.50" height="79.25" fill="#0a0a0a"/>
<line x1="462.25" y1="328.75" x2="462.25" y2="325.00" stroke="#111" stroke-width="1.2"/>
<line x1="457.75" y1="325.00" x2="466.75" y2="325.00" stroke="#111" stroke-width="1.2"/>
<rect x="451.75" y="329.50" width="21.00" height="14.75" fill="#e4e4e4" stroke="#111" stroke-width="1.5"/>
<text x="462.25" y="325.27" font-size="10.5" text-anchor="middle" font-weight="bold" fill="#151515">***</text>
<clipPath id="clipE"><rect x="440" y="220" width="78" height="40"/></clipPath><g clip-path="url(#clipE)">
<rect x="467.35" y="231.25" width="13.60" height="8.65" fill="#0a0a0a"/>
<rect x="468.15" y="246.30" width="12.00" height="6.30" fill="#e4e4e4" stroke="#111" stroke-width="1.6"/>
<text x="486.80" y="239.25" font-size="9.85" text-anchor="start" font-weight="bold" fill="#151515">Vehicle</text>
<text x="486.80" y="252.95" font-size="9.85" text-anchor="start" font-weight="bold" fill="#151515">diABZI</text>
</g>
<text x="372.75" y="288.75" font-size="9.85" font-weight="bold" fill="#151515" text-anchor="middle" transform="rotate(-90 372.75 288.75) translate(0 3.4)">% Live CD45<tspan font-size="6.6" dy="-3.8">+</tspan><tspan dy="3.8"> cells</tspan></text>
<text x="525.80" y="218.38" font-size="14.5" text-anchor="start" font-weight="bold" fill="#151515">F</text>
<line x1="562.25" y1="346.10" x2="562.25" y2="235.75" stroke="#111" stroke-width="1.3"/>
<line x1="558.25" y1="345.50" x2="562.25" y2="345.50" stroke="#111" stroke-width="1.3"/>
<text x="557.05" y="348.70" font-size="8.6" text-anchor="end" font-weight="bold" fill="#151515">0</text>
<line x1="558.25" y1="323.55" x2="562.25" y2="323.55" stroke="#111" stroke-width="1.3"/>
<text x="557.05" y="326.75" font-size="8.6" text-anchor="end" font-weight="bold" fill="#151515">10</text>
<line x1="558.25" y1="301.60" x2="562.25" y2="301.60" stroke="#111" stroke-width="1.3"/>
<text x="557.05" y="304.80" font-size="8.6" text-anchor="end" font-weight="bold" fill="#151515">20</text>
<line x1="558.25" y1="279.65" x2="562.25" y2="279.65" stroke="#111" stroke-width="1.3"/>
<text x="557.05" y="282.85" font-size="8.6" text-anchor="end" font-weight="bold" fill="#151515">30</text>
<line x1="558.25" y1="257.70" x2="562.25" y2="257.70" stroke="#111" stroke-width="1.3"/>
<text x="557.05" y="260.90" font-size="8.6" text-anchor="end" font-weight="bold" fill="#151515">40</text>
<line x1="558.25" y1="235.75" x2="562.25" y2="235.75" stroke="#111" stroke-width="1.3"/>
<text x="557.05" y="238.95" font-size="8.6" text-anchor="end" font-weight="bold" fill="#151515">50</text>
<line x1="561.65" y1="345.50" x2="703.50" y2="345.50" stroke="#111" stroke-width="1.3"/>
<line x1="586.00" y1="345.50" x2="586.00" y2="349.50" stroke="#111" stroke-width="1.3"/>
<line x1="632.75" y1="345.50" x2="632.75" y2="349.50" stroke="#111" stroke-width="1.3"/>
<line x1="679.75" y1="345.50" x2="679.75" y2="349.50" stroke="#111" stroke-width="1.3"/>
<line x1="575.75" y1="305.00" x2="575.75" y2="293.25" stroke="#111" stroke-width="1.2"/>
<line x1="572.12" y1="293.25" x2="579.38" y2="293.25" stroke="#111" stroke-width="1.2"/>
<rect x="568.50" y="305.00" width="14.50" height="40.50" fill="#0a0a0a"/>
<line x1="596.00" y1="255.75" x2="596.00" y2="243.25" stroke="#111" stroke-width="1.2"/>
<line x1="592.50" y1="243.25" x2="599.50" y2="243.25" stroke="#111" stroke-width="1.2"/>
<rect x="589.75" y="256.50" width="12.50" height="89.00" fill="#e4e4e4" stroke="#111" stroke-width="1.5"/>
<line x1="622.75" y1="339.25" x2="622.75" y2="337.50" stroke="#111" stroke-width="1.2"/>
<line x1="619.00" y1="337.50" x2="626.50" y2="337.50" stroke="#111" stroke-width="1.2"/>
<rect x="615.25" y="339.25" width="15.00" height="6.25" fill="#0a0a0a"/>
<line x1="643.12" y1="332.00" x2="643.12" y2="329.25" stroke="#111" stroke-width="1.2"/>
<line x1="639.56" y1="329.25" x2="646.69" y2="329.25" stroke="#111" stroke-width="1.2"/>
<rect x="636.75" y="332.75" width="12.75" height="12.75" fill="#e4e4e4" stroke="#111" stroke-width="1.5"/>
<line x1="669.75" y1="328.25" x2="669.75" y2="320.50" stroke="#111" stroke-width="1.2"/>
<line x1="666.00" y1="320.50" x2="673.50" y2="320.50" stroke="#111" stroke-width="1.2"/>
<rect x="662.25" y="328.25" width="15.00" height="17.25" fill="#0a0a0a"/>
<line x1="690.38" y1="296.25" x2="690.38" y2="293.25" stroke="#111" stroke-width="1.2"/>
<line x1="686.94" y1="293.25" x2="693.81" y2="293.25" stroke="#111" stroke-width="1.2"/>
<rect x="684.25" y="297.00" width="12.25" height="48.50" fill="#e4e4e4" stroke="#111" stroke-width="1.5"/>
<text x="596.00" y="245.28" font-size="10.5" text-anchor="middle" font-weight="bold" fill="#151515">**</text>
<text x="643.00" y="330.77" font-size="10.5" text-anchor="middle" font-weight="bold" fill="#151515">**</text>
<text x="690.40" y="294.02" font-size="10.5" text-anchor="middle" font-weight="bold" fill="#151515">**</text>
<rect x="655.10" y="232.50" width="13.60" height="7.90" fill="#0a0a0a"/>
<rect x="655.90" y="248.30" width="12.00" height="6.80" fill="#e4e4e4" stroke="#111" stroke-width="1.6"/>
<text x="674.25" y="239.90" font-size="9.85" text-anchor="start" font-weight="bold" fill="#151515">Vehicle</text>
<text x="674.25" y="254.90" font-size="9.85" text-anchor="start" font-weight="bold" fill="#151515">diABZI</text>
<text x="538.5" y="291.9" font-size="9.85" font-weight="bold" fill="#151515" text-anchor="middle" transform="rotate(-90 538.5 291.9) translate(0 3.4)">% Live CD45<tspan font-size="6.6" dy="-3.8">+</tspan><tspan dy="3.8"> cells</tspan></text>
<text x="586.70" y="354.70" font-size="9.85" text-anchor="end" font-weight="bold" fill="#151515" transform="rotate(-45 586.70 354.70)">Myeloid cell</text>
<text x="633.70" y="354.70" font-size="9.85" text-anchor="end" font-weight="bold" fill="#151515" transform="rotate(-45 633.70 354.70)">Monocyte</text>
<text x="680.70" y="354.70" font-size="9.85" text-anchor="end" font-weight="bold" fill="#151515" transform="rotate(-45 680.70 354.70)">Neutrophil</text>
<text x="1.50" y="419.68" font-size="14.5" text-anchor="start" font-weight="bold" fill="#151515">G</text>
<text x="75.00" y="435.65" font-size="9.85" text-anchor="middle" font-weight="bold" fill="#151515">Vehicle</text>
<text x="117.25" y="435.65" font-size="9.85" text-anchor="middle" font-weight="bold" fill="#151515">diABZI</text>
<rect x="33.5" y="441.5" width="118" height="95.7" fill="#edecea" stroke="#555" stroke-width="1"/>
<rect x="34" y="442" width="34" height="94.7" fill="#f6f6f4"/>
<line x1="57.20" y1="443.83" x2="67.80" y2="443.83" stroke="#151515" stroke-width="1.1"/>
<line x1="57.20" y1="446.56" x2="67.80" y2="446.56" stroke="#151515" stroke-width="1.1"/>
<line x1="57.20" y1="449.29" x2="67.80" y2="449.29" stroke="#151515" stroke-width="1.1"/>
<line x1="57.20" y1="452.02" x2="67.80" y2="452.02" stroke="#151515" stroke-width="1.1"/>
<line x1="53.00" y1="454.75" x2="67.80" y2="454.75" stroke="#151515" stroke-width="1.1"/>
<line x1="57.20" y1="457.48" x2="67.80" y2="457.48" stroke="#151515" stroke-width="1.1"/>
<line x1="57.20" y1="460.21" x2="67.80" y2="460.21" stroke="#151515" stroke-width="1.1"/>
<line x1="57.20" y1="462.94" x2="67.80" y2="462.94" stroke="#151515" stroke-width="1.1"/>
<line x1="57.20" y1="465.67" x2="67.80" y2="465.67" stroke="#151515" stroke-width="1.1"/>
<line x1="49.50" y1="468.40" x2="67.80" y2="468.40" stroke="#151515" stroke-width="1.1"/>
<line x1="57.20" y1="471.13" x2="67.80" y2="471.13" stroke="#151515" stroke-width="1.1"/>
<line x1="57.20" y1="473.86" x2="67.80" y2="473.86" stroke="#151515" stroke-width="1.1"/>
<line x1="57.20" y1="476.59" x2="67.80" y2="476.59" stroke="#151515" stroke-width="1.1"/>
<line x1="57.20" y1="479.32" x2="67.80" y2="479.32" stroke="#151515" stroke-width="1.1"/>
<line x1="53.00" y1="482.05" x2="67.80" y2="482.05" stroke="#151515" stroke-width="1.1"/>
<line x1="57.20" y1="484.78" x2="67.80" y2="484.78" stroke="#151515" stroke-width="1.1"/>
<line x1="57.20" y1="487.51" x2="67.80" y2="487.51" stroke="#151515" stroke-width="1.1"/>
<line x1="57.20" y1="490.24" x2="67.80" y2="490.24" stroke="#151515" stroke-width="1.1"/>
<line x1="57.20" y1="492.97" x2="67.80" y2="492.97" stroke="#151515" stroke-width="1.1"/>
<line x1="49.50" y1="495.70" x2="67.80" y2="495.70" stroke="#151515" stroke-width="1.1"/>
<line x1="57.20" y1="498.43" x2="67.80" y2="498.43" stroke="#151515" stroke-width="1.1"/>
<line x1="57.20" y1="501.16" x2="67.80" y2="501.16" stroke="#151515" stroke-width="1.1"/>
<line x1="57.20" y1="503.89" x2="67.80" y2="503.89" stroke="#151515" stroke-width="1.1"/>
<line x1="57.20" y1="506.62" x2="67.80" y2="506.62" stroke="#151515" stroke-width="1.1"/>
<line x1="53.00" y1="509.35" x2="67.80" y2="509.35" stroke="#151515" stroke-width="1.1"/>
<line x1="57.20" y1="512.08" x2="67.80" y2="512.08" stroke="#151515" stroke-width="1.1"/>
<line x1="57.20" y1="514.81" x2="67.80" y2="514.81" stroke="#151515" stroke-width="1.1"/>
<line x1="57.20" y1="517.54" x2="67.80" y2="517.54" stroke="#151515" stroke-width="1.1"/>
<line x1="57.20" y1="520.27" x2="67.80" y2="520.27" stroke="#151515" stroke-width="1.1"/>
<line x1="49.50" y1="523.00" x2="67.80" y2="523.00" stroke="#151515" stroke-width="1.1"/>
<line x1="57.20" y1="525.73" x2="67.80" y2="525.73" stroke="#151515" stroke-width="1.1"/>
<line x1="57.20" y1="528.46" x2="67.80" y2="528.46" stroke="#151515" stroke-width="1.1"/>
<line x1="57.20" y1="531.19" x2="67.80" y2="531.19" stroke="#151515" stroke-width="1.1"/>
<line x1="57.20" y1="533.92" x2="67.80" y2="533.92" stroke="#151515" stroke-width="1.1"/>
<line x1="53.00" y1="536.65" x2="67.80" y2="536.65" stroke="#151515" stroke-width="1.1"/>
<text x="43.5" y="468.2" font-size="10" font-weight="normal" fill="#1a1a1a" text-anchor="middle" transform="rotate(90 43.5 468.2) translate(0 3.6)">4</text>
<text x="43.5" y="495.4" font-size="10" font-weight="normal" fill="#1a1a1a" text-anchor="middle" transform="rotate(90 43.5 495.4) translate(0 3.6)">5</text>
<text x="43.5" y="522.6" font-size="10" font-weight="normal" fill="#1a1a1a" text-anchor="middle" transform="rotate(90 43.5 522.6) translate(0 3.6)">6</text>
<path d="M88,478 C91,478 93.5,480.5 93.3,486 C93,494 92,504 91.3,510 C90.5,516 88.7,518.5 86.2,518.3 C83.5,518 82,516 81.9,512 C81.7,504 82,492 82.7,485 C83.2,480.5 85.6,478 88,478 Z" fill="#dad6d3" opacity="0.7" filter="url(#blur1)"/>
<path d="M86.9,476.3 C90,476 92.2,478.5 92,484 C91.8,492 90.8,502 90,508 C89.2,514 87.5,516.2 85.1,516.1 C82.5,516 80.8,514 80.7,510 C80.5,502 80.8,490 81.5,483 C82,478.5 84.5,476.3 86.9,476.3 Z" fill="#5e0b18"/>
<path d="M86.9,476.3 C90,476 92.2,478.5 92,484 C91.8,492 90.8,502 90,508 C89.2,514 87.5,516.2 85.1,516.1 C82.5,516 80.8,514 80.7,510 C80.5,502 80.8,490 81.5,483 C82,478.5 84.5,476.3 86.9,476.3 Z" fill="#3a060c" transform="translate(86.5 496) scale(0.75 0.92) translate(-86.5 -496)" filter="url(#blur1)"/>
<path d="M121.30,461.40 C123.02,461.40 125.07,462.08 126.50,463.60 C127.93,465.12 129.18,467.92 129.90,470.50 C130.62,473.08 130.65,476.23 130.80,479.10 C130.95,481.97 130.73,484.83 130.80,487.70 C130.87,490.57 131.05,493.43 131.20,496.30 C131.35,499.17 131.70,502.03 131.70,504.90 C131.70,507.77 131.63,510.93 131.20,513.50 C130.77,516.07 130.17,518.45 129.10,520.30 C128.03,522.15 126.52,523.67 124.80,524.60 C123.08,525.53 120.67,526.03 118.80,525.90 C116.93,525.77 114.90,525.02 113.60,523.80 C112.30,522.58 111.57,520.75 111.00,518.60 C110.43,516.45 110.13,513.47 110.20,510.90 C110.27,508.33 110.83,505.78 111.40,503.20 C111.97,500.62 113.02,497.98 113.60,495.40 C114.18,492.82 114.75,490.42 114.90,487.70 C115.05,484.98 114.65,481.97 114.50,479.10 C114.35,476.23 113.72,473.08 114.00,470.50 C114.28,467.92 114.98,465.12 116.20,463.60 C117.42,462.08 119.58,461.40 121.30,461.40 Z" fill="#cfcac7" opacity="0.6" transform="translate(-1.6 1.2)" filter="url(#blur1)"/>
<path d="M121.30,461.40 C123.02,461.40 125.07,462.08 126.50,463.60 C127.93,465.12 129.18,467.92 129.90,470.50 C130.62,473.08 130.65,476.23 130.80,479.10 C130.95,481.97 130.73,484.83 130.80,487.70 C130.87,490.57 131.05,493.43 131.20,496.30 C131.35,499.17 131.70,502.03 131.70,504.90 C131.70,507.77 131.63,510.93 131.20,513.50 C130.77,516.07 130.17,518.45 129.10,520.30 C128.03,522.15 126.52,523.67 124.80,524.60 C123.08,525.53 120.67,526.03 118.80,525.90 C116.93,525.77 114.90,525.02 113.60,523.80 C112.30,522.58 111.57,520.75 111.00,518.60 C110.43,516.45 110.13,513.47 110.20,510.90 C110.27,508.33 110.83,505.78 111.40,503.20 C111.97,500.62 113.02,497.98 113.60,495.40 C114.18,492.82 114.75,490.42 114.90,487.70 C115.05,484.98 114.65,481.97 114.50,479.10 C114.35,476.23 113.72,473.08 114.00,470.50 C114.28,467.92 114.98,465.12 116.20,463.60 C117.42,462.08 119.58,461.40 121.30,461.40 Z" fill="#5e0b18"/>
<path d="M121.30,461.40 C123.02,461.40 125.07,462.08 126.50,463.60 C127.93,465.12 129.18,467.92 129.90,470.50 C130.62,473.08 130.65,476.23 130.80,479.10 C130.95,481.97 130.73,484.83 130.80,487.70 C130.87,490.57 131.05,493.43 131.20,496.30 C131.35,499.17 131.70,502.03 131.70,504.90 C131.70,507.77 131.63,510.93 131.20,513.50 C130.77,516.07 130.17,518.45 129.10,520.30 C128.03,522.15 126.52,523.67 124.80,524.60 C123.08,525.53 120.67,526.03 118.80,525.90 C116.93,525.77 114.90,525.02 113.60,523.80 C112.30,522.58 111.57,520.75 111.00,518.60 C110.43,516.45 110.13,513.47 110.20,510.90 C110.27,508.33 110.83,505.78 111.40,503.20 C111.97,500.62 113.02,497.98 113.60,495.40 C114.18,492.82 114.75,490.42 114.90,487.70 C115.05,484.98 114.65,481.97 114.50,479.10 C114.35,476.23 113.72,473.08 114.00,470.50 C114.28,467.92 114.98,465.12 116.20,463.60 C117.42,462.08 119.58,461.40 121.30,461.40 Z" fill="#33050a" transform="translate(121 494) scale(0.86 0.93) translate(-121 -494)" filter="url(#blur1)"/>
<g fill="#f0dcdc" opacity="0.95" filter="url(#blur05)">
<ellipse cx="118.5" cy="469.5" rx="1.3" ry="1.9"/>
<ellipse cx="120" cy="473" rx="0.9" ry="1.1"/>
<ellipse cx="126.3" cy="486" rx="1.1" ry="3.4"/>
<ellipse cx="127.5" cy="482.5" rx="0.8" ry="1.2"/>
<ellipse cx="127" cy="503" rx="0.8" ry="1.9"/>
<ellipse cx="126.3" cy="507.5" rx="0.9" ry="2.0"/>
<ellipse cx="125.3" cy="512" rx="0.8" ry="1.6"/>
<ellipse cx="123.8" cy="517.5" rx="0.9" ry="1.4"/>
<ellipse cx="122.5" cy="520.5" rx="0.8" ry="1.0"/>
<ellipse cx="86.3" cy="488.5" rx="0.6" ry="1.6"/>
<ellipse cx="86.8" cy="494" rx="0.5" ry="1.3"/>
<ellipse cx="86.3" cy="499.5" rx="0.5" ry="1.5"/>
<ellipse cx="86.2" cy="505" rx="0.5" ry="1.2"/>
<ellipse cx="86.6" cy="483" rx="0.5" ry="0.8"/>
</g>
<text x="1.40" y="553.68" font-size="14.5" text-anchor="start" font-weight="bold" fill="#151515">H</text>
<line x1="58.00" y1="630.10" x2="58.00" y2="544.50" stroke="#111" stroke-width="1.3"/>
<line x1="54.00" y1="629.50" x2="58.00" y2="629.50" stroke="#111" stroke-width="1.3"/>
<text x="52.80" y="632.70" font-size="8.6" text-anchor="end" font-weight="bold" fill="#151515">0</text>
<line x1="54.00" y1="608.25" x2="58.00" y2="608.25" stroke="#111" stroke-width="1.3"/>
<text x="52.80" y="611.45" font-size="8.6" text-anchor="end" font-weight="bold" fill="#151515">5</text>
<line x1="54.00" y1="587.00" x2="58.00" y2="587.00" stroke="#111" stroke-width="1.3"/>
<text x="52.80" y="590.20" font-size="8.6" text-anchor="end" font-weight="bold" fill="#151515">10</text>
<line x1="54.00" y1="565.75" x2="58.00" y2="565.75" stroke="#111" stroke-width="1.3"/>
<text x="52.80" y="568.95" font-size="8.6" text-anchor="end" font-weight="bold" fill="#151515">15</text>
<line x1="54.00" y1="544.50" x2="58.00" y2="544.50" stroke="#111" stroke-width="1.3"/>
<text x="52.80" y="547.70" font-size="8.6" text-anchor="end" font-weight="bold" fill="#151515">20</text>
<line x1="57.40" y1="629.50" x2="152.50" y2="629.50" stroke="#111" stroke-width="1.3"/>
<line x1="84.50" y1="629.50" x2="84.50" y2="633.50" stroke="#111" stroke-width="1.3"/>
<text x="84.50" y="643.65" font-size="9.85" text-anchor="middle" font-weight="bold" fill="#151515">Vehicle</text>
<line x1="126.25" y1="629.50" x2="126.25" y2="633.50" stroke="#111" stroke-width="1.3"/>
<text x="126.25" y="643.65" font-size="9.85" text-anchor="middle" font-weight="bold" fill="#151515">diABZI</text>
<line x1="84.50" y1="605.50" x2="84.50" y2="600.75" stroke="#111" stroke-width="1.2"/>
<line x1="80.00" y1="600.75" x2="89.00" y2="600.75" stroke="#111" stroke-width="1.2"/>
<rect x="70.75" y="605.50" width="27.50" height="24.00" fill="#0a0a0a"/>
<line x1="126.25" y1="575.00" x2="126.25" y2="558.00" stroke="#111" stroke-width="1.2"/>
<line x1="121.75" y1="558.00" x2="130.75" y2="558.00" stroke="#111" stroke-width="1.2"/>
<rect x="113.25" y="575.75" width="26.00" height="53.75" fill="#a2a2a6" stroke="#111" stroke-width="1.5"/>
<text x="126.25" y="558.77" font-size="10.5" text-anchor="middle" font-weight="bold" fill="#151515">**</text>
<text x="32.5" y="586.6" font-size="9.85" font-weight="bold" fill="#151515" text-anchor="middle" transform="rotate(-90 32.5 586.6) translate(0 3.4)">Cell number (10<tspan font-size="6.6" dy="-3.8">7</tspan><tspan dy="3.8">)</tspan></text>
<text x="177.40" y="419.88" font-size="14.5" text-anchor="start" font-weight="bold" fill="#151515">I</text>
<text x="242.00" y="435.65" font-size="9.85" text-anchor="middle" font-weight="bold" fill="#151515">Vehicle</text>
<text x="341.25" y="435.65" font-size="9.85" text-anchor="middle" font-weight="bold" fill="#151515">diABZI</text>
<rect x="193.3" y="441.3" width="96.4" height="96.1" fill="#fefefe" stroke="#333" stroke-width="1"/>
<rect x="294.2" y="441.3" width="96.6" height="96.1" fill="#fefefe" stroke="#333" stroke-width="1"/>
<path d="M215,462 L265,462 L282,480 L282,530 L225,530 L205,512 Z" fill="#f7f6f7" opacity="0.5"/>
<path d="M300,508 L388,508 L388,534 L300,534 Z" fill="#f7f6f7" opacity="0.6"/>
<path d="M243.50,459.10 C244.68,459.38 246.22,460.60 247.60,462.90 C248.98,465.20 250.75,469.83 251.80,472.90 C252.85,475.97 253.62,478.52 253.90,481.30 C254.18,484.08 253.98,486.82 253.50,489.60 C253.02,492.38 252.12,495.48 251.00,498.00 C249.88,500.52 248.62,502.47 246.80,504.70 C244.98,506.93 242.47,509.32 240.10,511.40 C237.73,513.48 235.25,515.53 232.60,517.20 C229.95,518.87 226.85,520.63 224.20,521.40 C221.55,522.17 218.50,522.22 216.70,521.80 C214.90,521.38 213.53,519.80 213.40,518.90 C213.27,518.00 214.23,517.10 215.90,516.40 C217.57,515.70 221.03,515.68 223.40,514.70 C225.77,513.72 227.87,512.32 230.10,510.50 C232.33,508.68 234.85,506.02 236.80,503.80 C238.75,501.58 240.55,499.57 241.80,497.20 C243.05,494.83 243.95,492.25 244.30,489.60 C244.65,486.95 244.32,484.08 243.90,481.30 C243.48,478.52 242.43,475.55 241.80,472.90 C241.17,470.25 240.32,467.35 240.10,465.40 C239.88,463.45 239.93,462.25 240.50,461.20 C241.07,460.15 242.32,458.82 243.50,459.10 Z" fill="#81379a" stroke="#fefefe" stroke-width="0.8" stroke-opacity="0.5"/>
<path d="M348.80,445.10 C351.12,444.25 354.73,446.12 357.70,447.60 C360.67,449.08 363.83,451.23 366.60,454.00 C369.37,456.77 372.17,460.60 374.30,464.20 C376.43,467.80 378.13,471.58 379.40,475.60 C380.67,479.62 381.58,484.28 381.90,488.30 C382.22,492.32 381.93,496.10 381.30,499.70 C380.67,503.30 379.70,506.50 378.10,509.90 C376.50,513.30 374.45,516.92 371.70,520.10 C368.95,523.28 365.42,526.67 361.60,529.00 C357.78,531.33 353.05,533.15 348.80,534.10 C344.55,535.05 340.33,535.13 336.10,534.70 C331.87,534.27 327.42,532.88 323.40,531.50 C319.38,530.12 314.97,528.52 312.00,526.40 C309.03,524.28 306.67,521.12 305.60,518.80 C304.53,516.48 304.75,514.08 305.60,512.50 C306.45,510.92 308.37,509.83 310.70,509.30 C313.03,508.77 317.05,508.98 319.60,509.30 C322.15,509.62 323.88,510.03 326.00,511.20 C328.12,512.37 329.98,515.67 332.30,516.30 C334.62,516.93 337.15,515.75 339.90,515.00 C342.65,514.25 345.62,513.28 348.80,511.80 C351.98,510.32 356.23,508.53 359.00,506.10 C361.77,503.67 364.02,500.38 365.40,497.20 C366.78,494.02 367.30,490.38 367.30,487.00 C367.30,483.62 366.57,479.87 365.40,476.90 C364.23,473.93 362.42,471.53 360.30,469.20 C358.18,466.87 355.03,464.80 352.70,462.90 C350.37,461.00 347.78,459.50 346.30,457.80 C344.82,456.10 343.38,454.82 343.80,452.70 C344.22,450.58 346.48,445.95 348.80,445.10 Z" fill="#84399c" stroke="#fefefe" stroke-width="0.8" stroke-opacity="0.5"/>
<rect x="193.3" y="541.3" width="96.4" height="95.8" fill="#a03b84"/>
<g clip-path="url(#clipHE1)">
<g filter="url(#blur2)">
<ellipse cx="238" cy="547" rx="40" ry="6" fill="#b63a72" opacity="0.8"/>
<ellipse cx="200" cy="560" rx="8" ry="14" fill="#b63a72" opacity="0.7"/>
<ellipse cx="244" cy="590" rx="22" ry="7" fill="#b63a72" opacity="0.7"/>
<ellipse cx="210" cy="588" rx="8" ry="6" fill="#b63a72" opacity="0.6"/>
<ellipse cx="222" cy="612" rx="10" ry="10" fill="#b63a72" opacity="0.7"/>
<ellipse cx="252" cy="606" rx="8" ry="6" fill="#b63a72" opacity="0.6"/>
<ellipse cx="262" cy="552" rx="8" ry="6" fill="#b63a72" opacity="0.6"/>
<ellipse cx="200" cy="620" rx="5" ry="10" fill="#b63a72" opacity="0.5"/>
<ellipse cx="218" cy="563" rx="11" ry="13" fill="#88388f" opacity="0.85"/>
<ellipse cx="258" cy="572" rx="9" ry="8" fill="#88388f" opacity="0.85"/>
<ellipse cx="280" cy="560" rx="13" ry="15" fill="#88388f" opacity="0.85"/>
<ellipse cx="273" cy="620" rx="20" ry="18" fill="#88388f" opacity="0.85"/>
<ellipse cx="285" cy="596" rx="7" ry="10" fill="#88388f" opacity="0.85"/>
<ellipse cx="204" cy="602" rx="9" ry="12" fill="#88388f" opacity="0.85"/>
<ellipse cx="236" cy="629" rx="15" ry="8" fill="#88388f" opacity="0.85"/>
<ellipse cx="246" cy="553" rx="5" ry="4" fill="#88388f" opacity="0.85"/>
<ellipse cx="238" cy="578" rx="6" ry="5" fill="#88388f" opacity="0.85"/>
</g>
<rect x="193.3" y="541.3" width="96.4" height="95.8" filter="url(#speck)" opacity="0.3"/>
<rect x="193.3" y="541.3" width="96.4" height="95.8" filter="url(#speckD)" opacity="0.45"/>
</g>
<rect x="193.3" y="541.3" width="96.4" height="95.8" fill="none" stroke="#333" stroke-width="1"/>
<rect x="294.2" y="541.3" width="95.5" height="95.8" fill="#913e84"/>
<g clip-path="url(#clipHE2)">
<g filter="url(#blur3)">
<ellipse cx="335" cy="556" rx="20" ry="11" fill="#ad5ea6" opacity="0.5"/>
<ellipse cx="310" cy="600" rx="10" ry="20" fill="#ac3e80" opacity="0.7"/>
<ellipse cx="372" cy="612" rx="14" ry="18" fill="#ad3f7a" opacity="0.7"/>
<ellipse cx="346" cy="582" rx="14" ry="10" fill="#a8487f" opacity="0.6"/>
<ellipse cx="360" cy="630" rx="10" ry="6" fill="#944898" opacity="0.7"/>
<ellipse cx="378" cy="560" rx="8" ry="10" fill="#b04a86" opacity="0.5"/>
</g>
<rect x="294.2" y="541.3" width="95.5" height="95.8" filter="url(#speck)" opacity="0.35"/>
<rect x="294.2" y="541.3" width="95.5" height="95.8" filter="url(#speckD)" opacity="0.55"/>
</g>
<rect x="294.2" y="541.3" width="95.5" height="95.8" fill="none" stroke="#333" stroke-width="1"/>
<text x="252.80" y="598.75" font-size="9.85" text-anchor="middle" font-weight="bold" fill="#151515">White pulp</text>
<text x="237.60" y="630.35" font-size="9.85" text-anchor="middle" font-weight="bold" fill="#151515">Red pulp</text>
<line x1="249.3" y1="589.9" x2="235.2" y2="579.2" stroke="#111" stroke-width="1.4" marker-end="url(#arr)"/>
<line x1="257.5" y1="589.2" x2="276.3" y2="570.9" stroke="#111" stroke-width="1.4" marker-end="url(#arr)"/>
<line x1="220.8" y1="619.3" x2="215.2" y2="605.9" stroke="#111" stroke-width="1.4" marker-end="url(#arr)"/>
<text x="418.30" y="419.88" font-size="14.5" text-anchor="start" font-weight="bold" fill="#151515">J</text>
<text x="489.60" y="435.15" font-size="9.85" text-anchor="middle" font-weight="bold" fill="#151515">Vehicle</text>
<text x="587.20" y="435.15" font-size="9.85" text-anchor="middle" font-weight="bold" fill="#151515">diABZI</text>
<text x="430" y="492.5" font-size="9.85" font-weight="bold" fill="#151515" text-anchor="middle" transform="rotate(-90 430 492.5) translate(0 3.4)">CD8</text>
<text x="430" y="588" font-size="9.85" font-weight="bold" fill="#151515" text-anchor="middle" transform="rotate(-90 430 588) translate(0 3.4)">Granzyme B</text>
<clipPath id="cj1"><rect x="439.5" y="440.4" width="97.4" height="97.0"/></clipPath>
<g clip-path="url(#cj1)">
<rect x="439.5" y="440.4" width="97.4" height="97.0" fill="#2744bc"/>
<rect x="439.5" y="440.4" width="97.4" height="97.0" filter="url(#darkJ)"/>
<rect x="439.5" y="440.4" width="97.4" height="97.0" filter="url(#speckJ)" opacity="0.7"/>
<rect x="439.5" y="440.4" width="97.4" height="97.0" filter="url(#bandJ)" opacity="0.18"/>
<g filter="url(#blur05)">
<circle cx="452" cy="481.5" r="1.6" fill="#6a1818" opacity="0.85"/>
<circle cx="444.8" cy="477" r="1.3" fill="#6a1818" opacity="0.85"/>
<circle cx="455" cy="464" r="1.0" fill="#6a1818" opacity="0.85"/>
<circle cx="491.8" cy="518.3" r="1.0" fill="#6a1818" opacity="0.85"/>
<circle cx="449.2" cy="513.8" r="1.2" fill="#6a1818" opacity="0.85"/>
<circle cx="470" cy="447" r="0.9" fill="#6a1818" opacity="0.85"/>
<circle cx="509" cy="490" r="0.9" fill="#6a1818" opacity="0.85"/>
<circle cx="523" cy="463" r="0.8" fill="#6a1818" opacity="0.85"/>
<circle cx="461" cy="528" r="1.0" fill="#6a1818" opacity="0.85"/>
</g>
<path d="M520.4,530.9 h9.3 M520.4,529.4 v3 M529.6999999999999,529.4 v3" stroke="#111" stroke-width="0.9" fill="none"/>
</g>
<rect x="439.5" y="440.4" width="97.4" height="97.0" fill="none" stroke="#222" stroke-width="1"/>
<clipPath id="cj2"><rect x="540.9" y="440.4" width="97.4" height="97.0"/></clipPath>
<g clip-path="url(#cj2)">
<rect x="540.9" y="440.4" width="97.4" height="97.0" fill="#2a44b8"/>
<rect x="540.9" y="440.4" width="97.4" height="97.0" filter="url(#darkJ)"/>
<rect x="540.9" y="440.4" width="97.4" height="97.0" filter="url(#redJ)" opacity="0.25"/>
<rect x="540.9" y="440.4" width="97.4" height="97.0" filter="url(#speckJ)" opacity="0.7"/>
<rect x="540.9" y="440.4" width="97.4" height="97.0" filter="url(#bandJ)" opacity="0.18"/>
<g filter="url(#blur05)">
<g filter="url(#blur2)">
<ellipse cx="598" cy="463" rx="14" ry="8" fill="#b04848" opacity="0.45"/>
<ellipse cx="575" cy="478" rx="8" ry="6" fill="#b04848" opacity="0.45"/>
<ellipse cx="560" cy="500" rx="10" ry="10" fill="#b04848" opacity="0.45"/>
<ellipse cx="590" cy="495" rx="8" ry="10" fill="#b04848" opacity="0.45"/>
<ellipse cx="548" cy="530" rx="8" ry="8" fill="#b04848" opacity="0.45"/>
<ellipse cx="626" cy="531" rx="6" ry="5" fill="#b04848" opacity="0.45"/>
</g>
<circle cx="593.7" cy="452.7" r="3.7" fill="#b8504e" opacity="0.45"/>
<circle cx="599.3" cy="462.6" r="3.9" fill="#b8504e" opacity="0.45"/>
<circle cx="596.5" cy="465" r="3.5" fill="#b8504e" opacity="0.45"/>
<circle cx="611.3" cy="459.8" r="3.7" fill="#b8504e" opacity="0.45"/>
<circle cx="610.6" cy="464.7" r="3.5" fill="#b8504e" opacity="0.45"/>
<circle cx="621.9" cy="460.5" r="3.3" fill="#b8504e" opacity="0.45"/>
<circle cx="586.6" cy="466.8" r="3.6" fill="#b8504e" opacity="0.45"/>
<circle cx="590.8" cy="470.4" r="3.5" fill="#b8504e" opacity="0.45"/>
<circle cx="594.4" cy="473.2" r="3.6" fill="#b8504e" opacity="0.45"/>
<circle cx="606.4" cy="471.8" r="3.1" fill="#b8504e" opacity="0.45"/>
<circle cx="572.5" cy="474.6" r="3.6" fill="#b8504e" opacity="0.45"/>
<circle cx="576" cy="479.5" r="3.5" fill="#b8504e" opacity="0.45"/>
<circle cx="569.7" cy="478.1" r="3.1" fill="#b8504e" opacity="0.45"/>
<circle cx="596.5" cy="483.1" r="3.6" fill="#b8504e" opacity="0.45"/>
<circle cx="586.6" cy="490.1" r="3.9" fill="#b8504e" opacity="0.45"/>
<circle cx="615.6" cy="490.1" r="3.3" fill="#b8504e" opacity="0.45"/>
<circle cx="548.5" cy="488" r="3.3" fill="#b8504e" opacity="0.45"/>
<circle cx="563.3" cy="489.4" r="3.9" fill="#b8504e" opacity="0.45"/>
<circle cx="566.1" cy="497.2" r="3.5" fill="#b8504e" opacity="0.45"/>
<circle cx="560.5" cy="496.5" r="3.7" fill="#b8504e" opacity="0.45"/>
<circle cx="583.8" cy="500" r="3.7" fill="#b8504e" opacity="0.45"/>
<circle cx="568.2" cy="502.1" r="3.1" fill="#b8504e" opacity="0.45"/>
<circle cx="554.1" cy="500" r="3.1" fill="#b8504e" opacity="0.45"/>
<circle cx="547.1" cy="507.8" r="3.9" fill="#b8504e" opacity="0.45"/>
<circle cx="556.2" cy="511.3" r="4.1" fill="#b8504e" opacity="0.45"/>
<circle cx="566.1" cy="513.4" r="3.3" fill="#b8504e" opacity="0.45"/>
<circle cx="586.6" cy="509.2" r="3.5" fill="#b8504e" opacity="0.45"/>
<circle cx="593" cy="509.2" r="3.3" fill="#b8504e" opacity="0.45"/>
<circle cx="602.1" cy="510.6" r="3.3" fill="#b8504e" opacity="0.45"/>
<circle cx="542.8" cy="527.6" r="4.3" fill="#b8504e" opacity="0.45"/>
<circle cx="547.1" cy="531.8" r="4.3" fill="#b8504e" opacity="0.45"/>
<circle cx="543" cy="535" r="4.3" fill="#b8504e" opacity="0.45"/>
<circle cx="561.2" cy="531.8" r="3.5" fill="#b8504e" opacity="0.45"/>
<circle cx="568.2" cy="533.9" r="3.3" fill="#b8504e" opacity="0.45"/>
<circle cx="621.9" cy="529.7" r="3.5" fill="#b8504e" opacity="0.45"/>
<circle cx="630.4" cy="533.2" r="3.9" fill="#b8504e" opacity="0.45"/>
<circle cx="554.1" cy="478.1" r="2.9" fill="#b8504e" opacity="0.45"/>
<circle cx="624.7" cy="495.1" r="2.9" fill="#b8504e" opacity="0.45"/>
<circle cx="580" cy="455" r="2.9" fill="#b8504e" opacity="0.45"/>
<circle cx="603" cy="450" r="2.8" fill="#b8504e" opacity="0.45"/>
<circle cx="556" cy="524" r="3.1" fill="#b8504e" opacity="0.45"/>
<circle cx="593.7" cy="452.7" r="2.4" fill="#4c0a12" opacity="0.92"/>
<circle cx="599.3" cy="462.6" r="2.6" fill="#4c0a12" opacity="0.92"/>
<circle cx="596.5" cy="465" r="2.2" fill="#4c0a12" opacity="0.92"/>
<circle cx="611.3" cy="459.8" r="2.4" fill="#4c0a12" opacity="0.92"/>
<circle cx="610.6" cy="464.7" r="2.2" fill="#4c0a12" opacity="0.92"/>
<circle cx="621.9" cy="460.5" r="2.0" fill="#4c0a12" opacity="0.92"/>
<circle cx="586.6" cy="466.8" r="2.3" fill="#4c0a12" opacity="0.92"/>
<circle cx="590.8" cy="470.4" r="2.2" fill="#4c0a12" opacity="0.92"/>
<circle cx="594.4" cy="473.2" r="2.3" fill="#4c0a12" opacity="0.92"/>
<circle cx="606.4" cy="471.8" r="1.8" fill="#4c0a12" opacity="0.92"/>
<circle cx="572.5" cy="474.6" r="2.3" fill="#4c0a12" opacity="0.92"/>
<circle cx="576" cy="479.5" r="2.2" fill="#4c0a12" opacity="0.92"/>
<circle cx="569.7" cy="478.1" r="1.8" fill="#4c0a12" opacity="0.92"/>
<circle cx="596.5" cy="483.1" r="2.3" fill="#4c0a12" opacity="0.92"/>
<circle cx="586.6" cy="490.1" r="2.6" fill="#4c0a12" opacity="0.92"/>
<circle cx="615.6" cy="490.1" r="2.0" fill="#4c0a12" opacity="0.92"/>
<circle cx="548.5" cy="488" r="2.0" fill="#4c0a12" opacity="0.92"/>
<circle cx="563.3" cy="489.4" r="2.6" fill="#4c0a12" opacity="0.92"/>
<circle cx="566.1" cy="497.2" r="2.2" fill="#4c0a12" opacity="0.92"/>
<circle cx="560.5" cy="496.5" r="2.4" fill="#4c0a12" opacity="0.92"/>
<circle cx="583.8" cy="500" r="2.4" fill="#4c0a12" opacity="0.92"/>
<circle cx="568.2" cy="502.1" r="1.8" fill="#4c0a12" opacity="0.92"/>
<circle cx="554.1" cy="500" r="1.8" fill="#4c0a12" opacity="0.92"/>
<circle cx="547.1" cy="507.8" r="2.6" fill="#4c0a12" opacity="0.92"/>
<circle cx="556.2" cy="511.3" r="2.8" fill="#4c0a12" opacity="0.92"/>
<circle cx="566.1" cy="513.4" r="2.0" fill="#4c0a12" opacity="0.92"/>
<circle cx="586.6" cy="509.2" r="2.2" fill="#4c0a12" opacity="0.92"/>
<circle cx="593" cy="509.2" r="2.0" fill="#4c0a12" opacity="0.92"/>
<circle cx="602.1" cy="510.6" r="2.0" fill="#4c0a12" opacity="0.92"/>
<circle cx="542.8" cy="527.6" r="3.0" fill="#4c0a12" opacity="0.92"/>
<circle cx="547.1" cy="531.8" r="3.0" fill="#4c0a12" opacity="0.92"/>
<circle cx="543" cy="535" r="3.0" fill="#4c0a12" opacity="0.92"/>
<circle cx="561.2" cy="531.8" r="2.2" fill="#4c0a12" opacity="0.92"/>
<circle cx="568.2" cy="533.9" r="2.0" fill="#4c0a12" opacity="0.92"/>
<circle cx="621.9" cy="529.7" r="2.2" fill="#4c0a12" opacity="0.92"/>
<circle cx="630.4" cy="533.2" r="2.6" fill="#4c0a12" opacity="0.92"/>
<circle cx="554.1" cy="478.1" r="1.6" fill="#4c0a12" opacity="0.92"/>
<circle cx="624.7" cy="495.1" r="1.6" fill="#4c0a12" opacity="0.92"/>
<circle cx="580" cy="455" r="1.6" fill="#4c0a12" opacity="0.92"/>
<circle cx="603" cy="450" r="1.5" fill="#4c0a12" opacity="0.92"/>
<circle cx="556" cy="524" r="1.8" fill="#4c0a12" opacity="0.92"/>
</g>
<path d="M621.8,530.9 h9.3 M621.8,529.4 v3 M631.0999999999999,529.4 v3" stroke="#111" stroke-width="0.9" fill="none"/>
</g>
<rect x="540.9" y="440.4" width="97.4" height="97.0" fill="none" stroke="#222" stroke-width="1"/>
<clipPath id="cj3"><rect x="439.5" y="541.8" width="97.4" height="97.0"/></clipPath>
<g clip-path="url(#cj3)">
<rect x="439.5" y="541.8" width="97.4" height="97.0" fill="#2744bc"/>
<rect x="439.5" y="541.8" width="97.4" height="97.0" filter="url(#darkJ)"/>
<rect x="439.5" y="541.8" width="97.4" height="97.0" filter="url(#speckJ)" opacity="0.7"/>
<rect x="439.5" y="541.8" width="97.4" height="97.0" filter="url(#bandJ)" opacity="0.18"/>
<g filter="url(#blur05)">
<circle cx="469.8" cy="580" r="3.2" fill="#9a2020" opacity="0.85"/>
<circle cx="472" cy="583.5" r="2.2" fill="#9a2020" opacity="0.85"/>
<circle cx="481.5" cy="546.2" r="2.0" fill="#9a2020" opacity="0.85"/>
<circle cx="524" cy="557.9" r="2.2" fill="#9a2020" opacity="0.85"/>
<circle cx="521.2" cy="615.2" r="2.6" fill="#9a2020" opacity="0.85"/>
<circle cx="518" cy="619" r="1.8" fill="#9a2020" opacity="0.85"/>
<circle cx="472.7" cy="628.4" r="2.0" fill="#9a2020" opacity="0.85"/>
<circle cx="441.9" cy="556.4" r="1.8" fill="#9a2020" opacity="0.85"/>
<circle cx="515.3" cy="543.2" r="1.6" fill="#9a2020" opacity="0.85"/>
<circle cx="461" cy="555" r="1.2" fill="#9a2020" opacity="0.85"/>
<circle cx="500" cy="600" r="1.0" fill="#9a2020" opacity="0.85"/>
<circle cx="455" cy="600" r="1.0" fill="#9a2020" opacity="0.85"/>
<circle cx="490" cy="570" r="1.0" fill="#9a2020" opacity="0.85"/>
</g>
<path d="M520.4,632.3 h9.3 M520.4,630.8 v3 M529.6999999999999,630.8 v3" stroke="#111" stroke-width="0.9" fill="none"/>
</g>
<rect x="439.5" y="541.8" width="97.4" height="97.0" fill="none" stroke="#222" stroke-width="1"/>
<clipPath id="cj4"><rect x="540.9" y="541.8" width="97.4" height="97.0"/></clipPath>
<g clip-path="url(#cj4)">
<rect x="540.9" y="541.8" width="97.4" height="97.0" fill="#40409a"/>
<rect x="540.9" y="541.8" width="97.4" height="97.0" filter="url(#darkJ)"/>
<rect x="540.9" y="541.8" width="97.4" height="97.0" filter="url(#redJ)" opacity="0.9"/>
<rect x="540.9" y="541.8" width="97.4" height="97.0" filter="url(#speckJ)" opacity="0.65"/>
<rect x="540.9" y="541.8" width="97.4" height="97.0" filter="url(#bandJ)" opacity="0.18"/>
<g filter="url(#blur05)">
<ellipse cx="572.4" cy="556.4" rx="1.49" ry="1.51" fill="#8a2a2a" opacity="0.32"/>
<ellipse cx="576.5" cy="547.4" rx="1.36" ry="1.32" fill="#8a2a2a" opacity="0.31"/>
<ellipse cx="547.7" cy="550.6" rx="1.28" ry="1.09" fill="#8a2a2a" opacity="0.55"/>
<ellipse cx="562.6" cy="602.7" rx="1.75" ry="1.68" fill="#8a2a2a" opacity="0.47"/>
<ellipse cx="636.0" cy="546.3" rx="1.67" ry="1.43" fill="#8a2a2a" opacity="0.39"/>
<ellipse cx="552.4" cy="571.7" rx="1.63" ry="1.69" fill="#8a2a2a" opacity="0.35"/>
<ellipse cx="603.1" cy="577.9" rx="1.39" ry="1.15" fill="#8a2a2a" opacity="0.32"/>
<ellipse cx="561.0" cy="607.8" rx="1.28" ry="1.33" fill="#8a2a2a" opacity="0.39"/>
<ellipse cx="585.0" cy="570.9" rx="1.61" ry="1.45" fill="#8a2a2a" opacity="0.51"/>
<ellipse cx="596.8" cy="592.7" rx="1.69" ry="1.54" fill="#8a2a2a" opacity="0.52"/>
<ellipse cx="636.4" cy="553.3" rx="1.28" ry="1.10" fill="#8a2a2a" opacity="0.53"/>
<ellipse cx="588.5" cy="545.6" rx="1.50" ry="1.55" fill="#8a2a2a" opacity="0.53"/>
<ellipse cx="626.2" cy="572.2" rx="1.53" ry="1.57" fill="#8a2a2a" opacity="0.48"/>
<ellipse cx="585.3" cy="623.3" rx="1.75" ry="1.87" fill="#8a2a2a" opacity="0.44"/>
<ellipse cx="546.8" cy="609.8" rx="1.48" ry="1.67" fill="#8a2a2a" opacity="0.60"/>
<ellipse cx="568.6" cy="579.2" rx="1.50" ry="1.48" fill="#8a2a2a" opacity="0.31"/>
<ellipse cx="557.3" cy="553.2" rx="0.95" ry="0.81" fill="#8a2a2a" opacity="0.53"/>
<ellipse cx="565.0" cy="579.7" rx="1.68" ry="1.65" fill="#8a2a2a" opacity="0.32"/>
<ellipse cx="594.4" cy="627.5" rx="1.64" ry="1.49" fill="#8a2a2a" opacity="0.56"/>
<ellipse cx="581.3" cy="576.6" rx="1.70" ry="1.46" fill="#8a2a2a" opacity="0.59"/>
<ellipse cx="558.1" cy="564.3" rx="1.11" ry="1.15" fill="#8a2a2a" opacity="0.45"/>
<ellipse cx="566.5" cy="542.2" rx="1.28" ry="1.31" fill="#8a2a2a" opacity="0.41"/>
<ellipse cx="633.7" cy="608.8" rx="1.36" ry="1.46" fill="#8a2a2a" opacity="0.49"/>
<ellipse cx="546.2" cy="629.1" rx="1.60" ry="1.79" fill="#8a2a2a" opacity="0.56"/>
<ellipse cx="579.1" cy="580.5" rx="0.99" ry="0.82" fill="#8a2a2a" opacity="0.49"/>
<ellipse cx="547.5" cy="562.1" rx="1.05" ry="0.86" fill="#8a2a2a" opacity="0.40"/>
<ellipse cx="540.9" cy="556.5" rx="0.99" ry="0.80" fill="#8a2a2a" opacity="0.41"/>
<ellipse cx="626.1" cy="601.4" rx="1.03" ry="0.97" fill="#8a2a2a" opacity="0.38"/>
<ellipse cx="576.4" cy="553.7" rx="1.66" ry="1.64" fill="#8a2a2a" opacity="0.60"/>
<ellipse cx="588.0" cy="550.1" rx="0.99" ry="0.90" fill="#8a2a2a" opacity="0.40"/>
<ellipse cx="621.6" cy="557.5" rx="0.92" ry="0.93" fill="#8a2a2a" opacity="0.59"/>
<ellipse cx="555.2" cy="594.5" rx="0.92" ry="1.10" fill="#8a2a2a" opacity="0.46"/>
<ellipse cx="625.0" cy="609.3" rx="1.14" ry="0.98" fill="#8a2a2a" opacity="0.41"/>
<ellipse cx="616.1" cy="593.5" rx="1.60" ry="1.42" fill="#8a2a2a" opacity="0.40"/>
<ellipse cx="619.9" cy="637.3" rx="1.67" ry="1.88" fill="#8a2a2a" opacity="0.54"/>
<ellipse cx="613.0" cy="563.8" rx="1.37" ry="1.11" fill="#8a2a2a" opacity="0.41"/>
<ellipse cx="543.6" cy="568.9" rx="1.13" ry="1.34" fill="#8a2a2a" opacity="0.51"/>
<ellipse cx="584.5" cy="632.7" rx="1.79" ry="1.69" fill="#8a2a2a" opacity="0.59"/>
<ellipse cx="562.4" cy="563.8" rx="1.08" ry="1.13" fill="#8a2a2a" opacity="0.36"/>
<ellipse cx="628.6" cy="623.3" rx="1.33" ry="1.49" fill="#8a2a2a" opacity="0.50"/>
<ellipse cx="549.2" cy="605.9" rx="1.72" ry="1.89" fill="#8a2a2a" opacity="0.53"/>
<ellipse cx="587.5" cy="559.1" rx="1.61" ry="1.80" fill="#8a2a2a" opacity="0.40"/>
<ellipse cx="635.5" cy="580.2" rx="1.26" ry="1.37" fill="#8a2a2a" opacity="0.58"/>
<ellipse cx="557.5" cy="554.1" rx="1.04" ry="1.16" fill="#8a2a2a" opacity="0.57"/>
<ellipse cx="555.1" cy="622.0" rx="1.78" ry="1.68" fill="#8a2a2a" opacity="0.50"/>
<ellipse cx="594.3" cy="554.5" rx="0.91" ry="0.97" fill="#8a2a2a" opacity="0.59"/>
<ellipse cx="592.2" cy="632.4" rx="1.29" ry="1.46" fill="#8a2a2a" opacity="0.56"/>
<ellipse cx="561.5" cy="566.2" rx="1.16" ry="1.20" fill="#8a2a2a" opacity="0.37"/>
<ellipse cx="566.2" cy="582.4" rx="1.02" ry="0.96" fill="#8a2a2a" opacity="0.57"/>
<ellipse cx="585.5" cy="598.4" rx="1.71" ry="2.00" fill="#8a2a2a" opacity="0.43"/>
<ellipse cx="589.8" cy="593.4" rx="1.37" ry="1.34" fill="#8a2a2a" opacity="0.31"/>
<ellipse cx="558.7" cy="542.2" rx="1.62" ry="1.60" fill="#8a2a2a" opacity="0.35"/>
<ellipse cx="611.5" cy="595.8" rx="1.19" ry="1.22" fill="#8a2a2a" opacity="0.46"/>
<ellipse cx="617.3" cy="552.1" rx="1.40" ry="1.28" fill="#8a2a2a" opacity="0.37"/>
<ellipse cx="616.1" cy="591.0" rx="1.41" ry="1.64" fill="#8a2a2a" opacity="0.53"/>
<ellipse cx="584.1" cy="601.2" rx="1.35" ry="1.46" fill="#8a2a2a" opacity="0.45"/>
<ellipse cx="585.0" cy="593.5" rx="1.33" ry="1.44" fill="#8a2a2a" opacity="0.58"/>
<ellipse cx="626.3" cy="633.2" rx="1.13" ry="1.33" fill="#8a2a2a" opacity="0.47"/>
<ellipse cx="622.7" cy="555.1" rx="1.01" ry="0.84" fill="#8a2a2a" opacity="0.43"/>
<ellipse cx="564.3" cy="548.9" rx="1.50" ry="1.74" fill="#8a2a2a" opacity="0.54"/>
<ellipse cx="555.9" cy="611.3" rx="1.49" ry="1.72" fill="#8a2a2a" opacity="0.34"/>
<ellipse cx="635.1" cy="563.1" rx="1.76" ry="1.75" fill="#8a2a2a" opacity="0.42"/>
<ellipse cx="637.3" cy="622.5" rx="1.05" ry="1.05" fill="#8a2a2a" opacity="0.43"/>
<ellipse cx="573.9" cy="560.8" rx="1.19" ry="0.96" fill="#8a2a2a" opacity="0.52"/>
<ellipse cx="594.9" cy="584.5" rx="0.92" ry="0.96" fill="#8a2a2a" opacity="0.40"/>
<ellipse cx="590.8" cy="548.0" rx="1.79" ry="2.12" fill="#8a2a2a" opacity="0.54"/>
<ellipse cx="551.1" cy="567.6" rx="0.94" ry="0.85" fill="#8a2a2a" opacity="0.53"/>
<ellipse cx="553.5" cy="582.8" rx="1.72" ry="1.55" fill="#8a2a2a" opacity="0.55"/>
<ellipse cx="555.4" cy="631.0" rx="1.41" ry="1.18" fill="#8a2a2a" opacity="0.51"/>
<ellipse cx="546.5" cy="608.6" rx="1.28" ry="1.51" fill="#8a2a2a" opacity="0.32"/>
<ellipse cx="602.7" cy="619.6" rx="0.98" ry="0.81" fill="#8a2a2a" opacity="0.56"/>
<ellipse cx="624.9" cy="585.8" rx="1.21" ry="1.41" fill="#8a2a2a" opacity="0.47"/>
<ellipse cx="567.0" cy="554.3" rx="1.37" ry="1.16" fill="#8a2a2a" opacity="0.37"/>
<ellipse cx="556.6" cy="546.7" rx="1.08" ry="1.00" fill="#8a2a2a" opacity="0.39"/>
<ellipse cx="614.9" cy="569.9" rx="1.35" ry="1.27" fill="#8a2a2a" opacity="0.35"/>
<ellipse cx="542.7" cy="566.1" rx="0.91" ry="0.93" fill="#8a2a2a" opacity="0.52"/>
<ellipse cx="559.4" cy="587.9" rx="1.74" ry="1.96" fill="#8a2a2a" opacity="0.33"/>
<ellipse cx="583.0" cy="589.8" rx="1.65" ry="1.66" fill="#8a2a2a" opacity="0.42"/>
<ellipse cx="607.9" cy="637.1" rx="1.21" ry="1.31" fill="#8a2a2a" opacity="0.55"/>
<ellipse cx="602.8" cy="581.1" rx="1.21" ry="1.03" fill="#8a2a2a" opacity="0.32"/>
<ellipse cx="547.8" cy="613.7" rx="1.13" ry="0.94" fill="#8a2a2a" opacity="0.35"/>
<ellipse cx="622.8" cy="626.2" rx="1.50" ry="1.35" fill="#8a2a2a" opacity="0.38"/>
<ellipse cx="569.4" cy="586.4" rx="1.04" ry="0.94" fill="#8a2a2a" opacity="0.43"/>
<ellipse cx="634.6" cy="636.1" rx="1.39" ry="1.65" fill="#8a2a2a" opacity="0.37"/>
<ellipse cx="571.0" cy="576.4" rx="0.90" ry="0.89" fill="#8a2a2a" opacity="0.41"/>
<ellipse cx="589.9" cy="561.3" rx="1.35" ry="1.23" fill="#8a2a2a" opacity="0.30"/>
<ellipse cx="549.6" cy="580.6" rx="0.94" ry="0.86" fill="#8a2a2a" opacity="0.31"/>
<ellipse cx="563.6" cy="598.6" rx="1.38" ry="1.46" fill="#8a2a2a" opacity="0.53"/>
<ellipse cx="610.6" cy="627.1" rx="1.25" ry="1.49" fill="#8a2a2a" opacity="0.40"/>
<ellipse cx="555.5" cy="612.0" rx="1.48" ry="1.68" fill="#8a2a2a" opacity="0.31"/>
<ellipse cx="627.8" cy="602.7" rx="1.56" ry="1.34" fill="#8a2a2a" opacity="0.54"/>
<ellipse cx="591.9" cy="590.7" rx="1.65" ry="1.87" fill="#8a2a2a" opacity="0.54"/>
<ellipse cx="597.8" cy="628.4" rx="1.51" ry="1.35" fill="#8a2a2a" opacity="0.51"/>
<ellipse cx="543.9" cy="554.7" rx="1.22" ry="1.39" fill="#8a2a2a" opacity="0.33"/>
<ellipse cx="595.3" cy="602.7" rx="1.46" ry="1.46" fill="#8a2a2a" opacity="0.50"/>
<ellipse cx="541.2" cy="619.2" rx="1.57" ry="1.60" fill="#8a2a2a" opacity="0.45"/>
<ellipse cx="605.1" cy="548.2" rx="1.56" ry="1.30" fill="#8a2a2a" opacity="0.38"/>
<ellipse cx="566.8" cy="612.5" rx="1.08" ry="1.29" fill="#8a2a2a" opacity="0.52"/>
<ellipse cx="589.0" cy="578.9" rx="1.33" ry="1.47" fill="#8a2a2a" opacity="0.51"/>
<ellipse cx="601.0" cy="604.1" rx="0.97" ry="0.87" fill="#8a2a2a" opacity="0.34"/>
<ellipse cx="613.3" cy="571.3" rx="1.41" ry="1.16" fill="#8a2a2a" opacity="0.30"/>
<ellipse cx="567.1" cy="607.0" rx="1.52" ry="1.40" fill="#8a2a2a" opacity="0.50"/>
<ellipse cx="591.2" cy="586.9" rx="1.32" ry="1.53" fill="#8a2a2a" opacity="0.34"/>
<ellipse cx="560.3" cy="636.7" rx="1.74" ry="1.71" fill="#8a2a2a" opacity="0.31"/>
<ellipse cx="620.8" cy="635.7" rx="1.30" ry="1.15" fill="#8a2a2a" opacity="0.38"/>
<ellipse cx="633.0" cy="562.2" rx="1.42" ry="1.44" fill="#8a2a2a" opacity="0.34"/>
<ellipse cx="633.7" cy="554.7" rx="1.64" ry="1.89" fill="#8a2a2a" opacity="0.45"/>
<ellipse cx="609.4" cy="564.2" rx="1.71" ry="1.38" fill="#8a2a2a" opacity="0.45"/>
<ellipse cx="541.2" cy="589.5" rx="1.31" ry="1.12" fill="#8a2a2a" opacity="0.39"/>
<ellipse cx="574.4" cy="572.5" rx="1.66" ry="1.82" fill="#8a2a2a" opacity="0.30"/>
<ellipse cx="622.6" cy="553.4" rx="1.73" ry="2.01" fill="#8a2a2a" opacity="0.51"/>
<ellipse cx="569.1" cy="577.9" rx="1.25" ry="1.30" fill="#8a2a2a" opacity="0.60"/>
<ellipse cx="576.0" cy="583.3" rx="1.15" ry="0.96" fill="#8a2a2a" opacity="0.31"/>
<ellipse cx="622.2" cy="569.5" rx="1.74" ry="1.58" fill="#8a2a2a" opacity="0.37"/>
<ellipse cx="590.7" cy="560.2" rx="1.24" ry="1.43" fill="#8a2a2a" opacity="0.59"/>
<ellipse cx="620.0" cy="603.0" rx="1.72" ry="1.76" fill="#8a2a2a" opacity="0.58"/>
<ellipse cx="611.0" cy="546.6" rx="1.56" ry="1.72" fill="#8a2a2a" opacity="0.44"/>
<ellipse cx="603.7" cy="569.6" rx="0.94" ry="0.80" fill="#8a2a2a" opacity="0.58"/>
<ellipse cx="586.9" cy="575.1" rx="1.17" ry="1.39" fill="#8a2a2a" opacity="0.52"/>
<ellipse cx="566.2" cy="605.4" rx="1.17" ry="1.12" fill="#8a2a2a" opacity="0.47"/>
<ellipse cx="557.2" cy="557.5" rx="1.09" ry="1.09" fill="#8a2a2a" opacity="0.57"/>
<ellipse cx="562.3" cy="629.7" rx="1.80" ry="1.54" fill="#8a2a2a" opacity="0.43"/>
<ellipse cx="559.6" cy="550.6" rx="1.21" ry="1.08" fill="#8a2a2a" opacity="0.33"/>
<ellipse cx="566.1" cy="597.1" rx="1.70" ry="1.64" fill="#8a2a2a" opacity="0.52"/>
<ellipse cx="581.2" cy="592.6" rx="1.24" ry="1.02" fill="#8a2a2a" opacity="0.40"/>
<ellipse cx="567.9" cy="635.7" rx="1.01" ry="1.07" fill="#8a2a2a" opacity="0.45"/>
<ellipse cx="624.9" cy="562.7" rx="1.14" ry="1.10" fill="#8a2a2a" opacity="0.37"/>
<ellipse cx="584.3" cy="634.3" rx="1.66" ry="1.35" fill="#8a2a2a" opacity="0.56"/>
<ellipse cx="544.0" cy="610.6" rx="1.71" ry="1.77" fill="#8a2a2a" opacity="0.44"/>
<ellipse cx="540.9" cy="579.8" rx="1.73" ry="1.98" fill="#8a2a2a" opacity="0.55"/>
<ellipse cx="635.6" cy="565.9" rx="1.00" ry="1.01" fill="#8a2a2a" opacity="0.35"/>
<ellipse cx="607.3" cy="633.1" rx="1.55" ry="1.71" fill="#8a2a2a" opacity="0.49"/>
<ellipse cx="585.4" cy="595.3" rx="0.94" ry="0.84" fill="#8a2a2a" opacity="0.53"/>
<ellipse cx="630.5" cy="604.4" rx="1.17" ry="1.06" fill="#8a2a2a" opacity="0.34"/>
<ellipse cx="602.9" cy="609.6" rx="1.00" ry="1.01" fill="#8a2a2a" opacity="0.32"/>
<ellipse cx="597.7" cy="579.4" rx="1.10" ry="0.89" fill="#8a2a2a" opacity="0.48"/>
<ellipse cx="570.3" cy="586.5" rx="1.76" ry="2.03" fill="#8a2a2a" opacity="0.49"/>
<ellipse cx="587.2" cy="564.6" rx="1.12" ry="1.21" fill="#8a2a2a" opacity="0.59"/>
<ellipse cx="570.8" cy="543.9" rx="1.35" ry="1.31" fill="#8a2a2a" opacity="0.50"/>
<ellipse cx="566.0" cy="606.5" rx="1.73" ry="1.41" fill="#8a2a2a" opacity="0.37"/>
<circle cx="600.7" cy="550.2" r="3.8" fill="#a84444" opacity="0.45"/>
<circle cx="606.4" cy="558" r="3.8" fill="#a84444" opacity="0.45"/>
<circle cx="624.7" cy="553.7" r="3.8" fill="#a84444" opacity="0.45"/>
<circle cx="631.8" cy="549.5" r="4.0" fill="#a84444" opacity="0.45"/>
<circle cx="632.5" cy="562.2" r="4.2" fill="#a84444" opacity="0.45"/>
<circle cx="636" cy="567.8" r="3.8" fill="#a84444" opacity="0.45"/>
<circle cx="619.1" cy="574.9" r="3.6" fill="#a84444" opacity="0.45"/>
<circle cx="613.4" cy="582" r="3.4" fill="#a84444" opacity="0.45"/>
<circle cx="594.4" cy="587.6" r="3.6" fill="#a84444" opacity="0.45"/>
<circle cx="589.4" cy="600.3" r="4.0" fill="#a84444" opacity="0.45"/>
<circle cx="593.7" cy="606.7" r="3.8" fill="#a84444" opacity="0.45"/>
<circle cx="612.7" cy="606" r="3.6" fill="#a84444" opacity="0.45"/>
<circle cx="599.3" cy="617.3" r="4.0" fill="#a84444" opacity="0.45"/>
<circle cx="602.1" cy="614.4" r="3.6" fill="#a84444" opacity="0.45"/>
<circle cx="578.1" cy="546.6" r="3.4" fill="#a84444" opacity="0.45"/>
<circle cx="571.1" cy="614.4" r="3.2" fill="#a84444" opacity="0.45"/>
<circle cx="548.5" cy="608.8" r="3.2" fill="#a84444" opacity="0.45"/>
<circle cx="615" cy="548" r="3.4" fill="#a84444" opacity="0.45"/>
<circle cx="625" cy="545" r="3.2" fill="#a84444" opacity="0.45"/>
<circle cx="610" cy="566" r="3.2" fill="#a84444" opacity="0.45"/>
<circle cx="585" cy="560" r="3.0" fill="#a84444" opacity="0.45"/>
<circle cx="560" cy="580" r="3.0" fill="#a84444" opacity="0.45"/>
<circle cx="575" cy="595" r="3.0" fill="#a84444" opacity="0.45"/>
<circle cx="558" cy="560" r="2.8" fill="#a84444" opacity="0.45"/>
<circle cx="565" cy="628" r="3.0" fill="#a84444" opacity="0.45"/>
<circle cx="625" cy="590" r="3.0" fill="#a84444" opacity="0.45"/>
<circle cx="548" cy="635" r="2.8" fill="#a84444" opacity="0.45"/>
<circle cx="600.7" cy="550.2" r="2.6" fill="#44080e" opacity="0.9"/>
<circle cx="606.4" cy="558" r="2.6" fill="#44080e" opacity="0.9"/>
<circle cx="624.7" cy="553.7" r="2.6" fill="#44080e" opacity="0.9"/>
<circle cx="631.8" cy="549.5" r="2.8" fill="#44080e" opacity="0.9"/>
<circle cx="632.5" cy="562.2" r="3.0" fill="#44080e" opacity="0.9"/>
<circle cx="636" cy="567.8" r="2.6" fill="#44080e" opacity="0.9"/>
<circle cx="619.1" cy="574.9" r="2.4" fill="#44080e" opacity="0.9"/>
<circle cx="613.4" cy="582" r="2.2" fill="#44080e" opacity="0.9"/>
<circle cx="594.4" cy="587.6" r="2.4" fill="#44080e" opacity="0.9"/>
<circle cx="589.4" cy="600.3" r="2.8" fill="#44080e" opacity="0.9"/>
<circle cx="593.7" cy="606.7" r="2.6" fill="#44080e" opacity="0.9"/>
<circle cx="612.7" cy="606" r="2.4" fill="#44080e" opacity="0.9"/>
<circle cx="599.3" cy="617.3" r="2.8" fill="#44080e" opacity="0.9"/>
<circle cx="602.1" cy="614.4" r="2.4" fill="#44080e" opacity="0.9"/>
<circle cx="578.1" cy="546.6" r="2.2" fill="#44080e" opacity="0.9"/>
<circle cx="571.1" cy="614.4" r="2.0" fill="#44080e" opacity="0.9"/>
<circle cx="548.5" cy="608.8" r="2.0" fill="#44080e" opacity="0.9"/>
<circle cx="615" cy="548" r="2.2" fill="#44080e" opacity="0.9"/>
<circle cx="625" cy="545" r="2.0" fill="#44080e" opacity="0.9"/>
<circle cx="610" cy="566" r="2.0" fill="#44080e" opacity="0.9"/>
<circle cx="585" cy="560" r="1.8" fill="#44080e" opacity="0.9"/>
<circle cx="560" cy="580" r="1.8" fill="#44080e" opacity="0.9"/>
<circle cx="575" cy="595" r="1.8" fill="#44080e" opacity="0.9"/>
<circle cx="558" cy="560" r="1.6" fill="#44080e" opacity="0.9"/>
<circle cx="565" cy="628" r="1.8" fill="#44080e" opacity="0.9"/>
<circle cx="625" cy="590" r="1.8" fill="#44080e" opacity="0.9"/>
<circle cx="548" cy="635" r="1.6" fill="#44080e" opacity="0.9"/>
</g>
<path d="M621.8,632.3 h9.3 M621.8,630.8 v3 M631.0999999999999,630.8 v3" stroke="#111" stroke-width="0.9" fill="none"/>
</g>
<rect x="540.9" y="541.8" width="97.4" height="97.0" fill="none" stroke="#222" stroke-width="1"/>
<text x="1.40" y="695.58" font-size="14.5" text-anchor="start" font-weight="bold" fill="#151515">K</text>
<line x1="63.30" y1="820.50" x2="63.30" y2="704.40" stroke="#111" stroke-width="1.3"/>
<line x1="59.30" y1="819.90" x2="63.30" y2="819.90" stroke="#111" stroke-width="1.3"/>
<text x="58.10" y="823.10" font-size="8.6" text-anchor="end" font-weight="bold" fill="#151515">0</text>
<line x1="59.30" y1="796.80" x2="63.30" y2="796.80" stroke="#111" stroke-width="1.3"/>
<text x="58.10" y="800.00" font-size="8.6" text-anchor="end" font-weight="bold" fill="#151515">20</text>
<line x1="59.30" y1="773.70" x2="63.30" y2="773.70" stroke="#111" stroke-width="1.3"/>
<text x="58.10" y="776.90" font-size="8.6" text-anchor="end" font-weight="bold" fill="#151515">40</text>
<line x1="59.30" y1="750.60" x2="63.30" y2="750.60" stroke="#111" stroke-width="1.3"/>
<text x="58.10" y="753.80" font-size="8.6" text-anchor="end" font-weight="bold" fill="#151515">60</text>
<line x1="59.30" y1="727.50" x2="63.30" y2="727.50" stroke="#111" stroke-width="1.3"/>
<text x="58.10" y="730.70" font-size="8.6" text-anchor="end" font-weight="bold" fill="#151515">80</text>
<line x1="59.30" y1="704.40" x2="63.30" y2="704.40" stroke="#111" stroke-width="1.3"/>
<text x="58.10" y="707.60" font-size="8.6" text-anchor="end" font-weight="bold" fill="#151515">100</text>
<line x1="62.70" y1="819.90" x2="188.75" y2="819.90" stroke="#111" stroke-width="1.3"/>
<line x1="94.00" y1="819.90" x2="94.00" y2="823.90" stroke="#111" stroke-width="1.3"/>
<line x1="157.60" y1="819.90" x2="157.60" y2="823.90" stroke="#111" stroke-width="1.3"/>
<line x1="81.10" y1="782.00" x2="81.10" y2="778.50" stroke="#111" stroke-width="1.2"/>
<line x1="77.35" y1="778.50" x2="84.85" y2="778.50" stroke="#111" stroke-width="1.2"/>
<rect x="71.50" y="782.00" width="19.20" height="37.90" fill="#0a0a0a"/>
<line x1="107.65" y1="773.90" x2="107.65" y2="770.00" stroke="#111" stroke-width="1.2"/>
<line x1="103.90" y1="770.00" x2="111.40" y2="770.00" stroke="#111" stroke-width="1.2"/>
<rect x="99.05" y="774.65" width="17.20" height="45.25" fill="#e4e4e4" stroke="#111" stroke-width="1.5"/>
<line x1="144.95" y1="761.60" x2="144.95" y2="753.00" stroke="#111" stroke-width="1.2"/>
<line x1="141.20" y1="753.00" x2="148.70" y2="753.00" stroke="#111" stroke-width="1.2"/>
<rect x="135.40" y="761.60" width="19.10" height="58.30" fill="#0a0a0a"/>
<line x1="170.88" y1="766.75" x2="170.88" y2="760.50" stroke="#111" stroke-width="1.2"/>
<line x1="167.12" y1="760.50" x2="174.62" y2="760.50" stroke="#111" stroke-width="1.2"/>
<rect x="162.50" y="767.50" width="16.75" height="52.40" fill="#e4e4e4" stroke="#111" stroke-width="1.5"/>
<text x="107.60" y="771.27" font-size="10.5" text-anchor="middle" font-weight="bold" fill="#151515">*</text>
<text x="170.90" y="760.48" font-size="10.5" text-anchor="middle" font-weight="bold" fill="#151515">*</text>
<rect x="142.10" y="701.25" width="14.35" height="8.65" fill="#0a0a0a"/>
<rect x="142.90" y="718.80" width="12.75" height="6.80" fill="#e4e4e4" stroke="#111" stroke-width="1.6"/>
<text x="162.50" y="709.15" font-size="9.85" text-anchor="start" font-weight="bold" fill="#151515">Vehicle</text>
<text x="162.50" y="725.40" font-size="9.85" text-anchor="start" font-weight="bold" fill="#151515">diABZI</text>
<text x="34.5" y="762.6" font-size="10.2" font-weight="bold" fill="#151515" text-anchor="middle" transform="rotate(-90 34.5 762.3) translate(0 3.4)">% Live CD3<tspan font-size="6.6" dy="-3.8">+</tspan><tspan dy="3.8"> cells</tspan></text>
<text x="96.0" y="832.6" font-size="10.2" font-weight="bold" fill="#151515" text-anchor="end" transform="rotate(-45 96.0 832.6)">CD8<tspan font-size="6.6" dy="-3.8">+</tspan><tspan dy="3.8"> T cell</tspan></text>
<text x="160.5" y="832.6" font-size="10.2" font-weight="bold" fill="#151515" text-anchor="end" transform="rotate(-45 160.5 832.6)">CD4<tspan font-size="6.6" dy="-3.8">+</tspan><tspan dy="3.8"> T cell</tspan></text>
<text x="233.80" y="695.98" font-size="14.5" text-anchor="start" font-weight="bold" fill="#151515">L</text>
<line x1="280.75" y1="820.60" x2="280.75" y2="707.00" stroke="#111" stroke-width="1.3"/>
<line x1="276.75" y1="820.00" x2="280.75" y2="820.00" stroke="#111" stroke-width="1.3"/>
<text x="275.55" y="823.20" font-size="8.6" text-anchor="end" font-weight="bold" fill="#151515">0</text>
<line x1="276.75" y1="791.75" x2="280.75" y2="791.75" stroke="#111" stroke-width="1.3"/>
<text x="275.55" y="794.95" font-size="8.6" text-anchor="end" font-weight="bold" fill="#151515">20</text>
<line x1="276.75" y1="763.50" x2="280.75" y2="763.50" stroke="#111" stroke-width="1.3"/>
<text x="275.55" y="766.70" font-size="8.6" text-anchor="end" font-weight="bold" fill="#151515">40</text>
<line x1="276.75" y1="735.25" x2="280.75" y2="735.25" stroke="#111" stroke-width="1.3"/>
<text x="275.55" y="738.45" font-size="8.6" text-anchor="end" font-weight="bold" fill="#151515">60</text>
<line x1="276.75" y1="707.00" x2="280.75" y2="707.00" stroke="#111" stroke-width="1.3"/>
<text x="275.55" y="710.20" font-size="8.6" text-anchor="end" font-weight="bold" fill="#151515">80</text>
<line x1="280.15" y1="820.00" x2="347.00" y2="820.00" stroke="#111" stroke-width="1.3"/>
<line x1="313.75" y1="820.00" x2="313.75" y2="824.00" stroke="#111" stroke-width="1.3"/>
<text x="313.75" y="835.65" font-size="9.85" text-anchor="middle" font-weight="bold" fill="#151515">B cell</text>
<line x1="298.12" y1="746.75" x2="298.12" y2="743.75" stroke="#111" stroke-width="1.2"/>
<line x1="294.38" y1="743.75" x2="301.88" y2="743.75" stroke="#111" stroke-width="1.2"/>
<rect x="288.75" y="746.75" width="18.75" height="73.25" fill="#0a0a0a"/>
<line x1="329.62" y1="775.50" x2="329.62" y2="763.00" stroke="#111" stroke-width="1.2"/>
<line x1="325.88" y1="763.00" x2="333.38" y2="763.00" stroke="#111" stroke-width="1.2"/>
<rect x="321.25" y="776.25" width="16.75" height="43.75" fill="#e4e4e4" stroke="#111" stroke-width="1.5"/>
<text x="329.50" y="763.77" font-size="10.5" text-anchor="middle" font-weight="bold" fill="#151515">*</text>
<rect x="285.85" y="703.00" width="14.10" height="9.15" fill="#0a0a0a"/>
<rect x="286.65" y="719.55" width="12.50" height="7.05" fill="#e4e4e4" stroke="#111" stroke-width="1.6"/>
<text x="305.00" y="711.15" font-size="9.85" text-anchor="start" font-weight="bold" fill="#151515">Vehicle</text>
<text x="305.00" y="726.65" font-size="9.85" text-anchor="start" font-weight="bold" fill="#151515">diABZI</text>
<text x="256.25" y="763.75" font-size="9.85" font-weight="bold" fill="#151515" text-anchor="middle" transform="rotate(-90 256.25 763.75) translate(0 3.4)">% Live CD45<tspan font-size="6.6" dy="-3.8">+</tspan><tspan dy="3.8"> cells</tspan></text>
<text x="401.50" y="695.98" font-size="14.5" text-anchor="start" font-weight="bold" fill="#151515">M</text>
<line x1="438.75" y1="820.60" x2="438.75" y2="708.25" stroke="#111" stroke-width="1.3"/>
<line x1="434.75" y1="820.00" x2="438.75" y2="820.00" stroke="#111" stroke-width="1.3"/>
<text x="433.55" y="823.20" font-size="8.6" text-anchor="end" font-weight="bold" fill="#151515">0</text>
<line x1="434.75" y1="797.75" x2="438.75" y2="797.75" stroke="#111" stroke-width="1.3"/>
<text x="433.55" y="800.95" font-size="8.6" text-anchor="end" font-weight="bold" fill="#151515">5</text>
<line x1="434.75" y1="775.50" x2="438.75" y2="775.50" stroke="#111" stroke-width="1.3"/>
<text x="433.55" y="778.70" font-size="8.6" text-anchor="end" font-weight="bold" fill="#151515">10</text>
<line x1="434.75" y1="753.25" x2="438.75" y2="753.25" stroke="#111" stroke-width="1.3"/>
<text x="433.55" y="756.45" font-size="8.6" text-anchor="end" font-weight="bold" fill="#151515">15</text>
<line x1="434.75" y1="731.00" x2="438.75" y2="731.00" stroke="#111" stroke-width="1.3"/>
<text x="433.55" y="734.20" font-size="8.6" text-anchor="end" font-weight="bold" fill="#151515">20</text>
<line x1="434.75" y1="708.75" x2="438.75" y2="708.75" stroke="#111" stroke-width="1.3"/>
<text x="433.55" y="711.95" font-size="8.6" text-anchor="end" font-weight="bold" fill="#151515">25</text>
<line x1="438.15" y1="820.00" x2="599.75" y2="820.00" stroke="#111" stroke-width="1.3"/>
<line x1="466.25" y1="820.00" x2="466.25" y2="824.00" stroke="#111" stroke-width="1.3"/>
<line x1="518.75" y1="820.00" x2="518.75" y2="824.00" stroke="#111" stroke-width="1.3"/>
<line x1="571.25" y1="820.00" x2="571.25" y2="824.00" stroke="#111" stroke-width="1.3"/>
<line x1="456.00" y1="800.50" x2="456.00" y2="793.75" stroke="#111" stroke-width="1.2"/>
<line x1="452.25" y1="793.75" x2="459.75" y2="793.75" stroke="#111" stroke-width="1.2"/>
<rect x="447.00" y="800.50" width="18.00" height="19.50" fill="#0a0a0a"/>
<line x1="477.75" y1="747.50" x2="477.75" y2="725.50" stroke="#111" stroke-width="1.2"/>
<line x1="474.00" y1="725.50" x2="481.50" y2="725.50" stroke="#111" stroke-width="1.2"/>
<rect x="470.00" y="748.25" width="15.50" height="71.75" fill="#e4e4e4" stroke="#111" stroke-width="1.5"/>
<line x1="508.25" y1="815.00" x2="508.25" y2="812.50" stroke="#111" stroke-width="1.2"/>
<line x1="504.50" y1="812.50" x2="512.00" y2="812.50" stroke="#111" stroke-width="1.2"/>
<rect x="499.50" y="815.00" width="17.50" height="5.00" fill="#0a0a0a"/>
<line x1="530.00" y1="793.25" x2="530.00" y2="783.75" stroke="#111" stroke-width="1.2"/>
<line x1="526.25" y1="783.75" x2="533.75" y2="783.75" stroke="#111" stroke-width="1.2"/>
<rect x="522.00" y="794.00" width="16.00" height="26.00" fill="#e4e4e4" stroke="#111" stroke-width="1.5"/>
<line x1="560.62" y1="803.00" x2="560.62" y2="794.50" stroke="#111" stroke-width="1.2"/>
<line x1="556.88" y1="794.50" x2="564.38" y2="794.50" stroke="#111" stroke-width="1.2"/>
<rect x="551.75" y="803.00" width="17.75" height="17.00" fill="#0a0a0a"/>
<line x1="582.50" y1="771.25" x2="582.50" y2="756.25" stroke="#111" stroke-width="1.2"/>
<line x1="578.75" y1="756.25" x2="586.25" y2="756.25" stroke="#111" stroke-width="1.2"/>
<rect x="574.50" y="772.00" width="16.00" height="48.00" fill="#e4e4e4" stroke="#111" stroke-width="1.5"/>
<text x="477.75" y="727.02" font-size="10.5" text-anchor="middle" font-weight="bold" fill="#151515">***</text>
<text x="530.00" y="784.52" font-size="10.5" text-anchor="middle" font-weight="bold" fill="#151515">**</text>
<text x="582.50" y="757.02" font-size="10.5" text-anchor="middle" font-weight="bold" fill="#151515">**</text>
<rect x="570.10" y="707.50" width="14.60" height="8.65" fill="#0a0a0a"/>
<rect x="570.90" y="725.05" width="13.00" height="6.55" fill="#e4e4e4" stroke="#111" stroke-width="1.6"/>
<text x="590.25" y="715.40" font-size="9.85" text-anchor="start" font-weight="bold" fill="#151515">Vehicle</text>
<text x="590.25" y="731.65" font-size="9.85" text-anchor="start" font-weight="bold" fill="#151515">diABZI</text>
<text x="417.5" y="765" font-size="9.85" font-weight="bold" fill="#151515" text-anchor="middle" transform="rotate(-90 417.5 765) translate(0 3.4)">% Live CD45<tspan font-size="6.6" dy="-3.8">+</tspan><tspan dy="3.8"> cells</tspan></text>
<text x="467.70" y="833.70" font-size="9.85" text-anchor="end" font-weight="bold" fill="#151515" transform="rotate(-45 467.70 833.70)">Myeloid cell</text>
<text x="520.20" y="832.20" font-size="9.85" text-anchor="end" font-weight="bold" fill="#151515" transform="rotate(-45 520.20 832.20)">Monocyte</text>
<text x="572.20" y="833.70" font-size="9.85" text-anchor="end" font-weight="bold" fill="#151515" transform="rotate(-45 572.20 833.70)">Neutrophil</text>
</svg>
</body></html>
